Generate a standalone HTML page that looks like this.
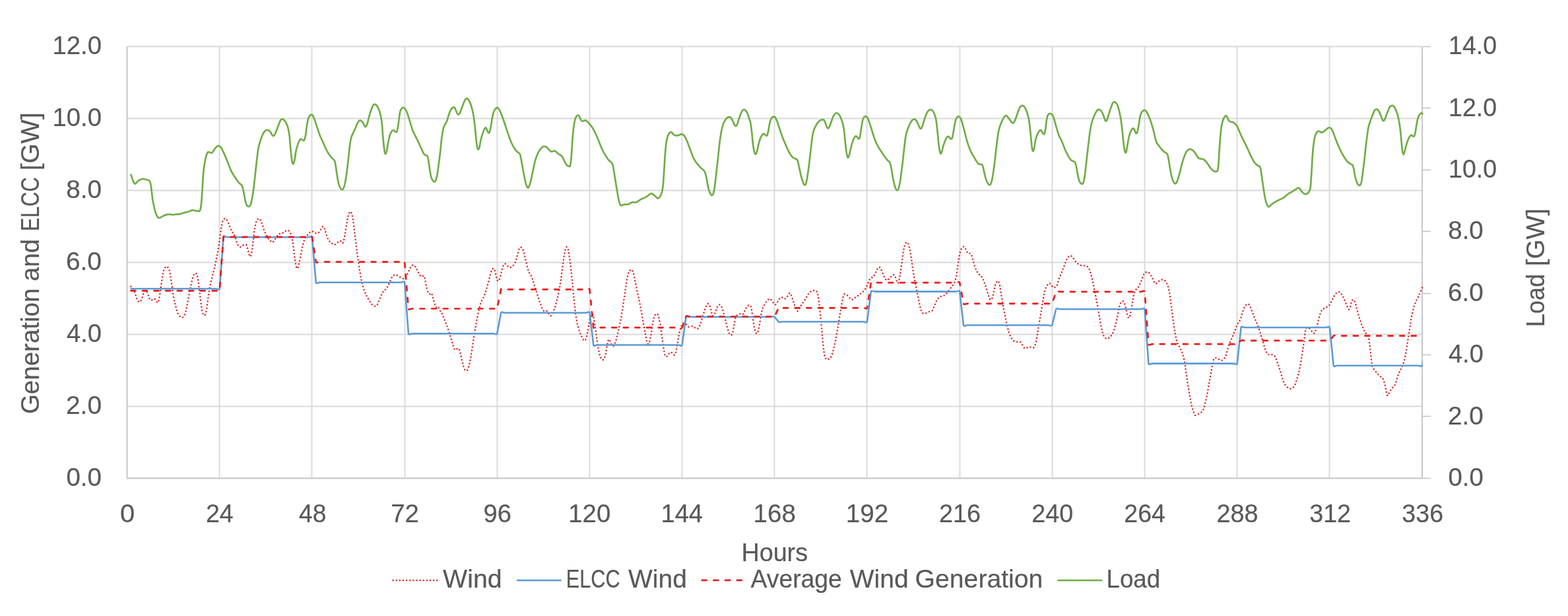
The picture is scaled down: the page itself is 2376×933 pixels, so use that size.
<!DOCTYPE html>
<html lang="en"><head><meta charset="utf-8"><title>Wind generation, ELCC and load</title>
<style>html,body{margin:0;padding:0;background:#fff;width:2376px;height:933px;overflow:hidden}svg{display:block}</style></head>
<body>
<svg width="2376" height="933" viewBox="0 0 2376 933" role="img" aria-label="Wind generation, ELCC and load over 336 hours">
<rect width="2376" height="933" fill="#fff"/>
<g stroke="#d9d9d9" stroke-width="1.9" fill="none">
<line x1="192.55" y1="70.50" x2="2155.07" y2="70.50"/>
<line x1="192.55" y1="179.50" x2="2155.07" y2="179.50"/>
<line x1="192.55" y1="288.50" x2="2155.07" y2="288.50"/>
<line x1="192.55" y1="397.50" x2="2155.07" y2="397.50"/>
<line x1="192.55" y1="506.50" x2="2155.07" y2="506.50"/>
<line x1="192.55" y1="615.50" x2="2155.07" y2="615.50"/>
<line x1="332.50" y1="70.43" x2="332.50" y2="724.38"/>
<line x1="472.50" y1="70.43" x2="472.50" y2="724.38"/>
<line x1="613.50" y1="70.43" x2="613.50" y2="724.38"/>
<line x1="753.50" y1="70.43" x2="753.50" y2="724.38"/>
<line x1="893.50" y1="70.43" x2="893.50" y2="724.38"/>
<line x1="1033.50" y1="70.43" x2="1033.50" y2="724.38"/>
<line x1="1173.50" y1="70.43" x2="1173.50" y2="724.38"/>
<line x1="1313.50" y1="70.43" x2="1313.50" y2="724.38"/>
<line x1="1454.50" y1="70.43" x2="1454.50" y2="724.38"/>
<line x1="1594.50" y1="70.43" x2="1594.50" y2="724.38"/>
<line x1="1734.50" y1="70.43" x2="1734.50" y2="724.38"/>
<line x1="1874.50" y1="70.43" x2="1874.50" y2="724.38"/>
<line x1="2014.50" y1="70.43" x2="2014.50" y2="724.38"/>
</g>
<g stroke="#c8c8c8" stroke-width="2.1" fill="none">
<path d="M192.55,70.43V724.38H2155.07V70.43" stroke-linejoin="round"/>
</g>
<g stroke="#c0c0c0" stroke-width="1.5" fill="none">
<line x1="2155.9700000000003" y1="70.50" x2="2168" y2="70.50"/>
<line x1="2155.9700000000003" y1="163.50" x2="2168" y2="163.50"/>
<line x1="2155.9700000000003" y1="257.50" x2="2168" y2="257.50"/>
<line x1="2155.9700000000003" y1="350.50" x2="2168" y2="350.50"/>
<line x1="2155.9700000000003" y1="444.50" x2="2168" y2="444.50"/>
<line x1="2155.9700000000003" y1="537.50" x2="2168" y2="537.50"/>
<line x1="2155.9700000000003" y1="630.50" x2="2168" y2="630.50"/>
<line x1="2155.9700000000003" y1="724.50" x2="2168" y2="724.50"/>
</g>
<g fill="none" stroke-linejoin="round">
<path d="M198.4,433.8C199.1,434.6 201.2,436.2 202.3,438.3C203.5,440.4 204.5,443.9 205.4,446.5C206.3,449.0 207.0,451.8 207.8,453.6C208.7,455.3 209.6,456.6 210.5,457.0C211.3,457.5 212.3,457.3 213.1,456.2C214.0,455.1 214.7,452.7 215.5,450.5C216.4,448.4 217.1,445.2 218.0,443.4C218.8,441.6 219.8,439.9 220.6,439.9C221.5,439.9 222.4,441.6 223.3,443.4C224.1,445.2 224.9,448.7 225.7,450.5C226.5,452.4 227.3,454.0 228.2,454.6C229.0,455.2 229.9,454.5 230.8,454.2C231.8,453.9 233.0,452.3 233.9,452.6C234.8,452.8 235.5,454.7 236.3,455.6C237.2,456.6 238.2,458.8 239.0,458.3C239.8,457.8 240.3,455.6 241.0,452.6C241.7,449.6 242.4,444.8 243.0,440.3C243.7,435.9 244.4,430.5 245.1,426.1C245.8,421.7 246.4,417.1 247.1,413.9C247.8,410.6 248.4,408.4 249.2,406.7C249.9,405.0 251.0,404.0 251.8,403.7C252.7,403.3 253.4,403.7 254.2,404.7C255.1,405.7 255.9,407.3 256.7,409.8C257.4,412.3 258.0,415.9 258.7,420.0C259.4,424.1 260.1,429.5 260.8,434.2C261.4,439.0 262.0,444.1 262.8,448.5C263.6,452.9 264.6,457.0 265.4,460.7C266.3,464.4 267.2,468.1 268.1,470.9C269.0,473.7 270.0,475.9 270.9,477.4C271.9,478.9 273.1,479.5 274.0,480.1C275.0,480.6 275.8,481.0 276.6,480.7C277.5,480.3 278.2,479.7 279.1,478.0C279.9,476.4 280.9,474.1 281.7,470.9C282.6,467.7 283.3,463.1 284.2,458.7C285.0,454.3 286.0,448.8 286.8,444.4C287.7,440.0 288.4,436.1 289.3,432.2C290.1,428.3 291.1,423.9 291.9,421.0C292.8,418.1 293.6,416.1 294.4,414.9C295.1,413.7 295.9,413.5 296.6,413.9C297.3,414.2 298.0,414.5 298.6,416.9C299.3,419.3 300.0,423.5 300.7,428.1C301.4,432.7 302.0,439.0 302.7,444.4C303.4,449.9 304.1,456.0 304.8,460.7C305.4,465.5 306.1,470.2 306.8,472.9C307.5,475.6 308.2,476.4 308.8,477.0C309.5,477.6 310.2,478.0 310.9,476.6C311.5,475.2 312.2,472.5 312.9,468.9C313.6,465.2 314.3,459.4 314.9,454.6C315.6,449.9 316.2,444.8 317.0,440.3C317.7,435.9 318.6,431.9 319.4,428.1C320.2,424.4 321.0,421.3 321.9,417.9C322.7,414.5 323.6,411.5 324.5,407.8C325.4,404.0 326.3,399.6 327.2,395.5C328.0,391.5 328.8,387.7 329.6,383.3C330.4,378.9 331.3,374.2 332.0,369.1C332.8,364.0 333.4,357.5 334.1,352.8C334.8,348.0 335.4,343.8 336.1,340.5C336.8,337.3 337.4,335.0 338.2,333.4C338.9,331.8 339.9,331.1 340.8,331.0C341.7,330.9 342.6,331.7 343.5,332.8C344.3,333.9 345.1,335.7 345.9,337.5C346.7,339.3 347.5,341.6 348.3,343.6C349.2,345.6 350.1,348.0 351.0,349.7C351.9,351.4 352.8,352.3 353.6,353.8C354.5,355.3 355.3,356.8 356.1,358.9C356.9,360.9 357.7,363.8 358.5,366.0C359.4,368.2 360.2,370.8 361.2,372.1C362.1,373.5 363.2,374.2 364.2,374.2C365.2,374.2 366.3,372.7 367.3,372.1C368.3,371.5 369.3,370.9 370.3,370.7C371.4,370.5 372.5,370.0 373.4,371.1C374.2,372.2 374.7,374.8 375.4,377.2C376.1,379.6 376.8,383.5 377.5,385.4C378.1,387.2 378.8,389.1 379.5,388.4C380.2,387.7 380.9,385.2 381.5,381.3C382.2,377.4 382.9,370.4 383.6,365.0C384.3,359.6 384.9,353.1 385.6,348.7C386.3,344.3 387.0,341.1 387.6,338.5C388.3,335.9 388.9,334.3 389.7,333.0C390.5,331.8 391.5,330.9 392.3,331.0C393.2,331.0 394.0,332.0 394.8,333.4C395.6,334.8 396.4,337.2 397.2,339.5C398.1,341.9 399.0,345.3 399.9,347.7C400.8,350.1 401.7,351.9 402.5,353.8C403.4,355.7 404.1,357.4 405.0,358.9C405.8,360.3 406.6,361.5 407.4,362.5C408.3,363.6 409.2,364.2 410.1,365.0C410.9,365.7 411.8,367.0 412.7,367.0C413.5,367.0 414.2,366.2 415.1,365.0C416.1,363.8 417.2,361.4 418.2,359.9C419.2,358.4 420.2,356.8 421.3,355.8C422.3,354.8 423.3,354.2 424.3,353.8C425.3,353.3 426.3,353.5 427.4,353.2C428.4,352.8 429.5,352.3 430.4,351.8C431.4,351.2 432.1,350.2 433.1,349.7C434.0,349.2 435.0,348.5 435.9,348.7C436.8,348.9 437.7,349.5 438.6,350.7C439.4,351.9 440.4,353.4 441.2,355.8C442.0,358.2 442.6,361.1 443.2,365.0C443.9,368.9 444.6,374.2 445.3,379.2C446.0,384.3 446.6,391.2 447.3,395.5C448.0,399.9 448.7,403.6 449.4,405.3C450.0,407.0 450.7,407.0 451.4,405.7C452.1,404.4 452.7,401.0 453.4,397.6C454.2,394.2 455.1,389.4 455.9,385.4C456.7,381.3 457.5,376.7 458.3,373.1C459.2,369.6 460.1,366.3 461.0,364.0C461.8,361.6 462.8,360.2 463.6,358.9C464.5,357.5 465.2,356.8 466.1,355.8C466.9,354.8 467.7,353.6 468.5,352.8C469.4,351.9 470.2,351.1 471.2,350.7C472.1,350.4 473.2,350.4 474.2,350.7C475.2,351.1 476.2,352.3 477.3,352.8C478.3,353.2 479.3,353.6 480.3,353.4C481.3,353.2 482.4,352.7 483.4,351.8C484.3,350.8 485.2,349.0 486.0,347.7C486.9,346.3 487.7,344.3 488.5,343.6C489.2,342.9 489.8,342.8 490.5,343.6C491.2,344.5 491.8,346.5 492.5,348.7C493.3,350.9 494.1,354.5 495.0,356.8C495.8,359.2 496.7,361.3 497.6,363.0C498.6,364.7 499.7,366.0 500.7,367.0C501.7,368.0 502.7,368.5 503.7,369.1C504.8,369.6 505.8,370.5 506.8,370.5C507.8,370.5 508.8,369.8 509.8,369.1C510.9,368.3 511.9,366.7 512.9,366.0C513.9,365.3 515.0,364.7 516.0,365.0C516.9,365.3 517.9,367.7 518.6,368.0C519.3,368.4 519.5,368.6 520.0,367.0C520.6,365.5 521.4,362.3 522.1,358.9C522.7,355.5 523.4,350.7 524.1,346.7C524.8,342.6 525.5,338.0 526.1,334.4C526.8,330.9 527.4,327.6 528.2,325.3C528.9,323.0 529.8,320.9 530.6,320.6C531.4,320.3 532.1,321.3 532.9,323.2C533.6,325.2 534.2,328.2 534.9,332.4C535.6,336.6 536.3,343.3 536.9,348.7C537.6,354.1 538.3,359.6 539.0,365.0C539.7,370.4 540.3,376.2 541.0,381.3C541.7,386.4 542.4,390.8 543.0,395.5C543.7,400.3 544.4,405.4 545.1,409.8C545.8,414.2 546.4,418.3 547.1,422.0C547.9,425.8 548.7,429.1 549.6,432.2C550.4,435.3 551.2,438.0 552.0,440.3C552.9,442.7 553.8,444.6 554.7,446.5C555.5,448.3 556.4,449.9 557.3,451.5C558.2,453.2 559.2,454.8 560.2,456.2C561.1,457.7 561.8,459.2 562.8,460.3C563.8,461.4 564.8,462.2 565.9,462.7C566.9,463.3 568.0,463.9 568.9,463.8C569.9,463.6 570.7,462.9 571.6,461.7C572.4,460.5 573.2,458.5 574.0,456.6C574.8,454.8 575.6,452.6 576.4,450.5C577.3,448.5 578.1,446.1 579.1,444.4C580.0,442.7 581.1,441.5 582.1,440.3C583.2,439.2 584.3,438.5 585.2,437.3C586.2,436.1 587.0,434.7 587.9,433.2C588.7,431.7 589.5,430.0 590.3,428.1C591.1,426.3 591.9,423.7 592.7,422.0C593.6,420.3 594.4,418.9 595.4,417.9C596.3,417.0 597.4,416.5 598.4,416.3C599.5,416.1 600.5,416.5 601.5,416.9C602.5,417.4 603.5,418.4 604.6,419.0C605.6,419.6 606.6,420.1 607.6,420.6C608.6,421.1 609.8,421.8 610.7,422.0C611.5,422.2 611.8,422.3 612.7,421.6C613.5,420.9 614.7,419.6 615.8,417.9C616.8,416.3 617.8,413.9 618.8,411.8C619.8,409.8 620.9,407.4 621.9,405.7C622.8,404.1 623.7,402.7 624.5,402.1C625.4,401.4 626.0,401.2 627.0,401.6C627.9,402.1 629.0,403.2 630.0,404.7C631.0,406.2 632.0,408.8 633.1,410.8C634.1,412.9 635.1,415.6 636.1,416.9C637.1,418.3 638.2,418.8 639.2,419.0C640.2,419.1 641.4,417.1 642.2,417.9C643.1,418.8 643.6,421.3 644.3,424.1C644.9,426.8 645.5,431.0 646.3,434.2C647.1,437.5 648.0,441.5 649.0,443.4C649.9,445.3 651.0,445.3 651.8,445.4C652.7,445.6 653.3,443.2 654.0,444.4C654.8,445.6 655.6,449.7 656.5,452.6C657.3,455.5 658.3,459.5 659.1,461.7C660.0,463.9 660.8,465.3 661.6,465.8C662.4,466.3 663.1,463.9 664.0,464.8C665.0,465.7 666.3,469.6 667.4,471.4C668.4,473.3 669.4,474.0 670.3,475.9C671.2,477.8 672.1,480.4 673.0,482.7C673.9,484.9 674.8,487.0 675.7,489.4C676.6,491.9 677.7,494.5 678.6,497.3C679.6,500.1 680.6,503.3 681.6,506.3C682.5,509.3 683.4,512.5 684.3,515.3C685.1,518.1 685.8,520.9 686.5,523.2C687.3,525.4 688.0,527.7 688.8,528.8C689.5,529.9 690.3,530.1 691.0,529.9C691.8,529.7 692.5,527.9 693.3,527.7C694.0,527.5 694.8,527.5 695.5,528.8C696.3,530.1 697.0,532.7 697.8,535.6C698.5,538.4 699.3,542.5 700.0,545.7C700.8,548.9 701.5,552.2 702.3,554.7C703.0,557.1 703.8,559.2 704.5,560.3C705.3,561.4 706.0,561.6 706.8,561.4C707.5,561.3 708.3,560.9 709.0,559.2C709.8,557.5 710.5,554.5 711.3,551.3C712.0,548.1 712.8,544.4 713.5,540.1C714.3,535.7 715.0,530.3 715.8,525.4C716.5,520.6 717.3,515.5 718.0,510.8C718.8,506.1 719.5,501.6 720.3,497.3C721.0,493.0 721.7,489.2 722.5,484.9C723.3,480.6 724.3,475.5 725.2,471.4C726.2,467.3 727.2,463.2 728.1,460.2C729.1,457.2 730.1,455.5 731.1,453.4C732.0,451.3 732.9,450.0 733.8,447.8C734.7,445.5 735.5,442.9 736.5,439.9C737.4,436.9 738.4,433.3 739.4,429.8C740.4,426.2 741.4,421.9 742.3,418.5C743.3,415.1 744.1,411.5 745.0,409.5C745.9,407.5 746.9,406.4 747.7,406.6C748.6,406.8 749.2,408.5 750.0,410.6C750.7,412.8 751.6,417.2 752.2,419.6C752.9,422.1 753.4,424.5 754.0,425.3C754.7,426.0 755.5,425.5 756.3,424.1C757.0,422.8 757.8,420.0 758.5,417.4C759.3,414.8 760.0,411.0 760.8,408.4C761.5,405.8 762.3,403.1 763.0,401.6C763.8,400.1 764.5,399.4 765.3,399.4C766.1,399.4 767.0,400.8 768.0,401.6C768.9,402.5 769.9,404.0 770.9,404.6C771.9,405.1 772.8,405.3 773.8,405.0C774.9,404.7 776.0,403.7 777.0,402.8C778.0,401.8 779.1,400.9 779.9,399.4C780.8,397.9 781.4,396.2 782.2,393.8C782.9,391.3 783.7,387.6 784.4,384.8C785.2,381.9 785.9,378.6 786.7,376.9C787.4,375.2 788.1,374.7 788.9,374.6C789.7,374.5 790.8,374.7 791.6,376.2C792.5,377.7 793.2,380.5 794.1,383.6C795.0,386.7 795.9,391.1 796.8,394.9C797.7,398.6 798.6,403.0 799.5,406.1C800.4,409.3 801.4,412.0 802.4,414.0C803.4,416.1 804.4,416.5 805.3,418.5C806.3,420.6 807.1,423.6 808.0,426.4C809.0,429.2 809.8,432.4 810.8,435.4C811.7,438.4 812.7,441.4 813.7,444.4C814.7,447.4 815.7,450.6 816.6,453.4C817.5,456.2 818.4,458.8 819.3,461.3C820.2,463.7 821.1,466.3 822.0,468.0C822.9,469.7 824.0,471.0 824.9,471.4C825.9,471.9 826.9,470.4 827.9,470.7C828.8,471.1 829.7,472.4 830.6,473.7C831.5,474.9 832.3,477.6 833.3,478.2C834.2,478.7 835.2,478.4 836.2,477.0C837.2,475.7 838.2,472.7 839.1,470.3C840.0,467.8 840.9,465.4 841.8,462.4C842.7,459.4 843.6,456.2 844.5,452.3C845.4,448.3 846.6,443.3 847.4,438.8C848.3,434.3 848.9,430.3 849.7,425.3C850.4,420.2 851.2,414.0 851.9,408.4C852.7,402.8 853.4,396.4 854.2,391.5C854.9,386.6 855.7,382.1 856.4,379.1C857.2,376.2 857.9,374.1 858.7,374.0C859.4,373.8 860.2,375.1 860.9,378.0C861.7,380.9 862.4,386.3 863.2,391.5C863.9,396.8 864.7,402.8 865.4,409.5C866.2,416.3 866.9,424.5 867.7,432.0C868.4,439.5 869.2,447.4 869.9,454.5C870.7,461.7 871.4,469.2 872.2,474.8C872.9,480.4 873.7,484.5 874.4,488.3C875.2,492.0 875.9,494.7 876.7,497.3C877.4,499.9 878.2,502.0 878.9,504.0C879.7,506.1 880.4,508.0 881.2,509.7C881.9,511.4 882.7,513.2 883.4,514.2C884.2,515.2 884.9,515.9 885.7,515.8C886.5,515.6 887.2,515.0 888.0,513.0C888.7,511.1 889.5,507.8 890.2,504.0C891.0,500.3 891.7,494.7 892.5,490.5C893.2,486.4 894.0,481.7 894.7,479.3C895.5,476.9 896.2,475.9 897.0,475.9C897.7,475.9 898.5,476.5 899.2,479.3C900.0,482.1 900.7,487.9 901.5,492.8C902.2,497.7 903.0,503.3 903.7,508.5C904.5,513.8 905.2,519.8 906.0,524.3C906.7,528.8 907.5,532.6 908.2,535.6C909.0,538.6 909.6,540.7 910.5,542.3C911.3,543.9 912.3,544.8 913.2,545.0C914.0,545.2 914.8,545.0 915.6,543.4C916.4,541.9 917.1,539.1 917.9,535.6C918.6,532.0 919.4,525.6 920.1,522.1C920.9,518.5 921.6,515.1 922.4,514.2C923.1,513.2 923.9,515.1 924.6,516.4C925.4,517.7 926.1,520.7 926.9,522.1C927.6,523.4 928.4,524.5 929.1,524.3C929.9,524.1 930.6,522.8 931.4,520.9C932.2,519.1 933.2,516.2 934.1,513.0C935.0,509.9 935.9,505.9 936.8,501.8C937.7,497.7 938.7,493.2 939.7,488.3C940.7,483.4 941.7,478.2 942.6,472.5C943.6,466.9 944.4,460.5 945.3,454.5C946.2,448.5 947.2,442.0 948.0,436.5C948.9,431.1 949.5,425.8 950.3,421.9C951.0,418.0 951.8,415.0 952.5,412.9C953.3,410.8 954.0,410.3 954.8,409.5C955.6,408.8 956.5,407.8 957.3,408.4C958.1,409.0 958.8,410.5 959.5,412.9C960.3,415.3 960.9,419.1 961.8,423.0C962.6,427.0 963.6,432.2 964.5,436.5C965.4,440.8 966.2,444.6 967.2,448.9C968.1,453.2 969.2,457.7 970.1,462.4C971.0,467.1 971.9,472.0 972.8,477.0C973.7,482.1 974.6,487.9 975.5,492.8C976.4,497.7 977.2,502.2 978.0,506.3C978.8,510.4 979.5,515.1 980.2,517.6C981.0,520.0 981.7,521.3 982.5,520.9C983.2,520.6 984.0,518.1 984.7,515.3C985.5,512.5 986.2,508.4 987.0,504.0C987.7,499.7 988.5,493.5 989.2,489.4C990.0,485.3 990.7,481.5 991.5,479.3C992.2,477.0 992.9,476.5 993.7,475.9C994.6,475.3 995.6,474.8 996.4,475.9C997.3,477.0 997.9,479.5 998.7,482.7C999.4,485.9 1000.2,490.4 1000.9,495.0C1001.7,499.7 1002.4,505.5 1003.2,510.8C1003.9,516.1 1004.7,522.1 1005.4,526.6C1006.2,531.1 1006.9,535.6 1007.7,537.8C1008.4,540.1 1009.1,540.2 1009.9,540.1C1010.8,539.9 1011.8,537.8 1012.9,536.7C1013.9,535.6 1015.2,533.5 1016.2,533.3C1017.3,533.1 1018.2,534.8 1019.2,535.6C1020.1,536.3 1021.0,538.2 1021.9,537.8C1022.7,537.4 1023.4,535.9 1024.1,533.3C1024.9,530.7 1025.6,526.2 1026.4,522.1C1027.1,517.9 1027.8,512.7 1028.6,508.5C1029.4,504.4 1030.4,500.3 1031.3,497.3C1032.3,494.3 1033.3,491.9 1034.2,490.5C1035.2,489.2 1036.2,489.2 1037.2,489.4C1038.2,489.6 1039.3,490.7 1040.3,491.7C1041.3,492.6 1042.2,494.6 1043.3,495.0C1044.3,495.5 1045.5,494.8 1046.6,494.6C1047.8,494.4 1049.0,493.7 1050.0,493.9C1051.1,494.2 1052.0,495.5 1052.9,496.2C1053.9,496.8 1054.7,497.6 1055.6,497.7C1056.5,497.9 1057.4,498.0 1058.3,496.8C1059.3,495.6 1060.3,493.1 1061.3,490.5C1062.2,488.0 1063.2,484.5 1064.2,481.5C1065.1,478.5 1066.0,475.3 1066.9,472.5C1067.8,469.7 1068.6,466.7 1069.6,464.7C1070.5,462.6 1071.6,460.7 1072.5,460.2C1073.4,459.6 1074.0,460.0 1074.8,461.3C1075.5,462.6 1076.3,465.4 1077.0,468.0C1077.8,470.7 1078.5,475.3 1079.3,477.0C1080.0,478.7 1080.8,478.7 1081.5,478.2C1082.3,477.6 1083.0,475.5 1083.8,473.7C1084.5,471.8 1085.2,468.8 1086.0,466.9C1086.8,465.0 1087.9,463.3 1088.7,462.4C1089.6,461.5 1090.3,461.2 1091.2,461.7C1092.1,462.3 1093.0,463.6 1093.9,465.8C1094.8,468.0 1095.7,471.4 1096.6,474.8C1097.5,478.2 1098.5,482.3 1099.5,486.0C1100.5,489.8 1101.5,494.1 1102.4,497.3C1103.4,500.5 1104.2,503.5 1105.1,505.2C1106.0,506.9 1107.0,507.6 1107.8,507.4C1108.7,507.2 1109.3,506.5 1110.1,504.0C1110.8,501.6 1111.6,496.5 1112.3,492.8C1113.1,489.0 1113.7,484.2 1114.6,481.5C1115.5,478.9 1116.6,478.0 1117.5,477.0C1118.5,476.1 1119.5,476.3 1120.5,475.9C1121.4,475.5 1122.3,474.8 1123.2,474.8C1124.1,474.8 1124.9,476.7 1125.9,475.9C1126.8,475.2 1127.8,472.2 1128.8,470.3C1129.8,468.4 1130.8,466.0 1131.7,464.7C1132.6,463.3 1133.7,462.8 1134.4,462.4C1135.1,462.1 1135.2,462.1 1135.8,462.5C1136.4,462.9 1137.3,462.2 1138.1,464.8C1138.8,467.4 1139.6,473.4 1140.3,478.3C1141.1,483.2 1141.8,489.9 1142.6,494.0C1143.3,498.2 1144.1,501.2 1144.8,503.0C1145.6,504.9 1146.3,505.4 1147.1,504.9C1147.8,504.3 1148.6,502.6 1149.3,499.7C1150.1,496.7 1150.8,491.6 1151.6,487.3C1152.3,483.0 1153.0,477.5 1153.8,473.8C1154.6,470.0 1155.6,467.0 1156.5,464.8C1157.4,462.5 1158.3,461.8 1159.2,460.3C1160.1,458.8 1161.2,457.0 1162.1,455.8C1163.1,454.6 1164.1,453.5 1165.1,453.1C1166.1,452.7 1167.2,452.8 1168.2,453.5C1169.2,454.3 1170.2,456.3 1171.1,457.6C1172.1,458.9 1173.1,461.1 1174.1,461.4C1175.1,461.7 1176.2,460.5 1177.2,459.2C1178.2,457.8 1179.2,455.0 1180.1,453.5C1181.1,452.1 1182.1,451.1 1183.1,450.6C1184.1,450.2 1185.2,450.5 1186.2,450.8C1187.2,451.1 1188.2,452.3 1189.1,452.4C1190.1,452.5 1191.0,452.2 1191.8,451.3C1192.7,450.3 1193.5,448.0 1194.3,446.8C1195.1,445.6 1195.8,444.1 1196.6,444.1C1197.3,444.1 1198.0,445.0 1198.8,446.8C1199.6,448.5 1200.6,452.0 1201.5,454.7C1202.4,457.3 1203.3,460.1 1204.2,462.5C1205.2,465.0 1206.3,467.9 1207.2,469.3C1208.0,470.7 1208.5,471.8 1209.4,471.1C1210.3,470.3 1211.3,466.6 1212.3,464.8C1213.3,463.0 1214.5,461.8 1215.5,460.3C1216.5,458.8 1217.4,457.3 1218.4,455.8C1219.4,454.3 1220.4,452.8 1221.3,451.3C1222.3,449.8 1223.0,448.3 1224.0,446.8C1225.0,445.3 1226.3,443.3 1227.4,442.3C1228.5,441.2 1229.7,440.9 1230.8,440.5C1231.9,440.1 1233.0,439.9 1234.2,440.0C1235.3,440.1 1236.6,439.7 1237.5,441.2C1238.5,442.7 1239.1,445.5 1239.8,449.0C1240.5,452.6 1241.0,457.7 1241.6,462.5C1242.2,467.4 1242.6,473.0 1243.2,478.3C1243.7,483.5 1244.3,488.8 1244.7,494.0C1245.2,499.3 1245.6,504.6 1246.1,509.8C1246.6,515.1 1247.1,521.1 1247.7,525.6C1248.2,530.1 1248.7,534.0 1249.2,536.8C1249.8,539.6 1250.4,541.1 1251.0,542.4C1251.7,543.8 1252.5,544.5 1253.3,544.7C1254.1,544.9 1255.1,544.1 1256.0,543.6C1256.9,543.0 1258.1,542.6 1258.9,541.3C1259.8,540.0 1260.4,537.9 1261.2,535.7C1261.9,533.4 1262.7,530.8 1263.4,527.8C1264.2,524.8 1264.9,521.4 1265.7,517.7C1266.4,513.9 1267.2,509.6 1267.9,505.3C1268.7,501.0 1269.4,496.3 1270.2,491.8C1270.9,487.3 1271.7,482.8 1272.4,478.3C1273.2,473.8 1273.9,469.1 1274.7,464.8C1275.4,460.5 1276.2,455.6 1276.9,452.4C1277.7,449.2 1278.3,446.7 1279.2,445.7C1280.0,444.6 1280.9,446.0 1281.9,446.3C1282.8,446.7 1283.9,447.1 1284.8,447.9C1285.7,448.7 1286.6,450.3 1287.5,451.3C1288.4,452.3 1289.5,453.8 1290.4,454.0C1291.4,454.2 1292.3,453.0 1293.4,452.4C1294.4,451.8 1295.5,450.8 1296.5,450.2C1297.5,449.5 1298.4,449.1 1299.4,448.4C1300.5,447.6 1301.7,446.5 1302.8,445.7C1303.9,444.8 1305.1,444.3 1306.2,443.4C1307.2,442.5 1308.2,441.2 1309.1,440.0C1310.0,438.9 1310.9,438.2 1311.8,436.7C1312.7,435.2 1313.6,433.1 1314.5,431.0C1315.4,429.0 1316.1,426.0 1317.0,424.3C1317.9,422.6 1318.8,421.6 1319.7,420.9C1320.6,420.1 1321.7,420.5 1322.6,419.8C1323.6,419.0 1324.4,417.9 1325.3,416.4C1326.2,414.9 1327.2,412.5 1328.0,410.8C1328.9,409.0 1329.7,406.8 1330.5,405.8C1331.3,404.8 1332.0,404.3 1332.7,404.7C1333.5,405.1 1334.2,406.5 1335.0,408.1C1335.8,409.6 1336.8,412.2 1337.7,414.1C1338.6,416.1 1339.5,418.1 1340.4,419.8C1341.3,421.5 1342.3,423.7 1343.3,424.3C1344.3,424.8 1345.3,423.8 1346.2,423.1C1347.2,422.5 1348.0,421.2 1348.9,420.2C1349.9,419.3 1350.9,418.2 1351.9,417.5C1352.8,416.9 1353.7,416.0 1354.6,416.4C1355.4,416.8 1356.1,418.1 1356.8,419.8C1357.6,421.5 1358.4,425.0 1359.1,426.5C1359.8,428.0 1360.2,429.5 1360.9,428.8C1361.5,428.0 1362.3,425.0 1362.9,422.0C1363.5,419.0 1364.0,415.3 1364.7,410.8C1365.4,406.3 1366.2,400.3 1367.0,395.0C1367.7,389.8 1368.5,383.4 1369.2,379.3C1370.0,375.1 1370.6,372.3 1371.5,370.3C1372.3,368.2 1373.3,366.9 1374.2,366.9C1375.0,366.9 1375.8,368.2 1376.6,370.3C1377.4,372.3 1378.1,375.5 1378.9,379.3C1379.6,383.0 1380.4,387.9 1381.1,392.8C1381.9,397.6 1382.6,403.6 1383.4,408.5C1384.1,413.4 1384.9,417.9 1385.6,422.0C1386.4,426.1 1387.1,429.5 1387.9,433.3C1388.6,437.0 1389.4,440.8 1390.1,444.5C1390.9,448.3 1391.6,452.2 1392.4,455.8C1393.1,459.3 1393.9,463.1 1394.6,465.9C1395.4,468.7 1396.1,471.2 1396.9,472.7C1397.7,474.2 1398.6,474.6 1399.6,474.9C1400.6,475.2 1401.8,474.8 1403.0,474.5C1404.1,474.1 1405.2,473.2 1406.3,472.7C1407.5,472.2 1408.7,471.9 1409.7,471.5C1410.8,471.2 1411.7,471.5 1412.6,470.4C1413.6,469.3 1414.4,466.9 1415.3,464.8C1416.2,462.7 1417.1,460.1 1418.0,458.0C1419.0,456.0 1419.9,453.8 1421.0,452.4C1422.0,451.0 1423.2,450.1 1424.3,449.5C1425.5,448.8 1426.6,449.0 1427.7,448.6C1428.8,448.2 1430.0,447.9 1431.1,447.2C1432.2,446.6 1433.4,445.7 1434.5,444.5C1435.6,443.3 1436.7,441.5 1437.9,440.0C1439.0,438.5 1440.1,437.0 1441.2,435.5C1442.4,434.0 1443.6,432.7 1444.6,431.0C1445.6,429.3 1446.5,428.0 1447.3,425.4C1448.1,422.8 1448.9,419.2 1449.6,415.3C1450.2,411.3 1450.8,405.9 1451.4,401.8C1452.0,397.6 1452.5,394.1 1453.2,390.5C1453.8,386.9 1454.6,382.9 1455.4,380.4C1456.2,377.8 1457.2,376.3 1458.1,375.2C1459.0,374.1 1460.1,373.1 1461.0,373.6C1462.0,374.1 1462.8,376.5 1463.7,378.1C1464.6,379.7 1465.5,382.4 1466.4,383.3C1467.4,384.2 1468.4,383.3 1469.4,383.8C1470.3,384.2 1471.2,384.1 1472.1,386.0C1472.9,387.9 1473.7,392.0 1474.5,395.0C1475.4,398.0 1476.3,401.4 1477.2,404.0C1478.2,406.6 1479.2,408.9 1480.2,410.8C1481.2,412.6 1482.3,414.1 1483.3,415.3C1484.3,416.4 1485.3,416.4 1486.2,417.5C1487.2,418.6 1488.2,420.1 1489.2,422.0C1490.1,423.9 1491.0,426.3 1491.9,428.8C1492.8,431.2 1493.6,433.7 1494.6,436.7C1495.5,439.7 1496.6,444.0 1497.5,446.8C1498.4,449.6 1499.3,452.6 1500.2,453.5C1501.1,454.5 1502.2,454.3 1503.1,452.4C1504.1,450.5 1505.0,445.8 1505.8,442.3C1506.7,438.7 1507.5,433.7 1508.3,431.0C1509.1,428.4 1509.8,427.4 1510.6,426.5C1511.3,425.7 1512.1,424.9 1512.8,426.1C1513.6,427.2 1514.3,429.8 1515.1,433.3C1515.8,436.7 1516.6,442.3 1517.3,446.8C1518.1,451.3 1518.8,456.0 1519.6,460.3C1520.3,464.6 1521.1,468.7 1521.8,472.7C1522.6,476.6 1523.3,480.4 1524.1,483.9C1524.8,487.5 1525.6,490.9 1526.3,494.0C1527.1,497.2 1527.7,500.4 1528.6,503.0C1529.4,505.7 1530.3,507.9 1531.3,509.8C1532.2,511.7 1533.2,513.1 1534.2,514.3C1535.2,515.5 1536.2,516.4 1537.3,517.0C1538.5,517.6 1539.8,517.6 1540.9,517.7C1542.1,517.8 1543.1,517.5 1544.1,517.7C1545.1,517.9 1546.0,517.9 1547.0,518.8C1548.0,519.7 1549.0,521.9 1549.9,523.3C1550.9,524.7 1551.6,526.8 1552.6,527.4C1553.7,527.9 1554.9,527.0 1556.0,526.7C1557.1,526.4 1558.3,525.7 1559.4,525.6C1560.5,525.4 1561.7,525.4 1562.8,525.6C1563.8,525.7 1564.8,527.1 1565.7,526.7C1566.6,526.3 1567.6,525.4 1568.4,523.3C1569.2,521.2 1569.9,518.1 1570.6,514.3C1571.4,510.6 1572.1,505.3 1572.9,500.8C1573.6,496.3 1574.4,491.8 1575.1,487.3C1575.9,482.8 1576.6,478.3 1577.4,473.8C1578.1,469.3 1578.9,464.8 1579.6,460.3C1580.4,455.8 1581.1,450.7 1581.9,446.8C1582.7,442.8 1583.7,439.3 1584.6,436.7C1585.5,434.0 1586.6,432.3 1587.5,431.0C1588.5,429.8 1589.5,429.0 1590.5,429.2C1591.4,429.4 1592.3,431.1 1593.2,432.2C1594.1,433.2 1594.9,435.0 1595.9,435.5C1596.8,436.0 1597.8,435.6 1598.8,435.1C1599.8,434.5 1600.8,434.1 1601.7,432.2C1602.6,430.2 1603.4,425.9 1604.4,423.1C1605.4,420.4 1606.6,418.2 1607.6,415.7C1608.6,413.3 1609.4,411.0 1610.3,408.6C1611.2,406.2 1612.1,403.7 1612.9,401.5C1613.8,399.3 1614.6,397.2 1615.4,395.4C1616.2,393.5 1617.0,391.6 1617.8,390.3C1618.7,389.0 1619.6,388.1 1620.5,387.6C1621.3,387.2 1622.3,387.3 1623.1,387.6C1624.0,388.0 1624.7,388.6 1625.5,389.7C1626.4,390.7 1627.1,392.5 1628.0,393.7C1628.8,395.0 1629.8,396.0 1630.6,397.0C1631.5,397.9 1632.4,398.8 1633.3,399.4C1634.1,400.1 1634.8,400.6 1635.7,401.1C1636.6,401.5 1637.8,401.8 1638.8,402.1C1639.8,402.3 1640.8,402.4 1641.8,402.5C1642.9,402.6 1643.9,402.3 1644.9,402.5C1645.8,402.7 1646.7,402.8 1647.5,403.5C1648.4,404.2 1649.2,405.2 1650.0,406.6C1650.7,407.9 1651.3,409.6 1652.0,411.7C1652.7,413.7 1653.4,416.1 1654.1,418.8C1654.7,421.5 1655.4,424.7 1656.1,428.0C1656.8,431.2 1657.5,434.7 1658.1,438.1C1658.8,441.5 1659.5,444.9 1660.2,448.3C1660.9,451.7 1661.5,454.9 1662.2,458.5C1662.9,462.1 1663.6,465.8 1664.2,469.7C1664.9,473.6 1665.6,478.0 1666.3,481.9C1667.0,485.8 1667.6,489.7 1668.3,493.1C1669.0,496.5 1669.7,499.7 1670.4,502.3C1671.0,504.8 1671.6,506.8 1672.4,508.4C1673.1,510.0 1674.0,511.1 1674.8,511.9C1675.7,512.6 1676.6,513.1 1677.5,513.1C1678.4,513.1 1679.3,512.4 1680.1,511.9C1681.0,511.3 1681.8,510.7 1682.6,509.8C1683.4,508.9 1684.2,507.8 1685.0,506.4C1685.9,504.9 1686.9,503.3 1687.7,501.3C1688.4,499.2 1689.0,496.7 1689.7,494.1C1690.4,491.6 1691.1,488.9 1691.7,486.0C1692.4,483.1 1693.1,480.1 1693.8,476.8C1694.5,473.6 1695.1,469.5 1695.8,466.6C1696.5,463.8 1697.2,461.2 1697.9,459.5C1698.5,457.9 1699.2,457.4 1699.9,456.9C1700.6,456.4 1701.2,456.0 1701.9,456.5C1702.6,456.9 1703.3,457.8 1704.0,459.5C1704.6,461.2 1705.3,463.9 1706.0,466.6C1706.7,469.4 1707.4,473.4 1708.0,475.8C1708.7,478.3 1709.4,480.8 1710.1,481.3C1710.8,481.8 1711.4,481.0 1712.1,478.9C1712.8,476.8 1713.5,472.4 1714.1,468.7C1714.8,465.0 1715.5,460.2 1716.2,456.5C1716.9,452.7 1717.5,449.0 1718.2,446.3C1718.9,443.6 1719.5,441.7 1720.3,440.2C1721.0,438.6 1722.1,438.1 1722.9,437.1C1723.8,436.1 1724.5,435.4 1725.3,434.1C1726.2,432.7 1726.9,430.8 1727.8,429.0C1728.6,427.1 1729.6,425.1 1730.4,422.9C1731.3,420.7 1732.2,417.4 1733.1,415.7C1733.9,414.0 1734.7,413.3 1735.5,412.7C1736.3,412.1 1737.1,412.1 1738.0,412.1C1738.8,412.1 1739.7,412.1 1740.6,412.7C1741.5,413.3 1742.4,414.5 1743.3,415.7C1744.1,417.0 1744.9,418.6 1745.7,420.2C1746.5,421.8 1747.3,423.9 1748.2,425.5C1749.0,427.1 1749.9,429.1 1750.8,429.6C1751.7,430.1 1752.6,429.0 1753.5,428.4C1754.3,427.7 1755.0,426.6 1755.9,425.9C1756.7,425.2 1757.7,424.7 1758.5,424.3C1759.4,423.9 1760.1,423.5 1761.0,423.5C1761.8,423.4 1762.8,423.5 1763.6,423.9C1764.5,424.3 1765.3,424.9 1766.1,425.9C1766.9,426.9 1767.8,428.3 1768.5,430.0C1769.3,431.7 1769.9,433.7 1770.6,436.1C1771.2,438.5 1771.7,441.2 1772.2,444.2C1772.7,447.3 1773.1,451.0 1773.6,454.4C1774.1,457.8 1774.6,461.2 1775.0,464.6C1775.5,468.0 1775.8,471.4 1776.3,474.8C1776.7,478.2 1777.2,481.6 1777.7,485.0C1778.2,488.4 1778.6,491.8 1779.1,495.2C1779.6,498.6 1780.2,502.3 1780.7,505.3C1781.3,508.4 1781.8,511.1 1782.4,513.5C1783.0,515.9 1783.7,517.7 1784.4,519.6C1785.2,521.5 1786.0,523.0 1786.9,524.7C1787.7,526.4 1788.6,527.9 1789.5,529.8C1790.4,531.7 1791.4,533.5 1792.1,535.9C1792.9,538.3 1793.5,540.9 1794.2,544.0C1794.8,547.2 1795.6,552.1 1796.0,554.7C1796.4,557.3 1796.5,558.1 1796.7,559.8C1796.9,561.4 1797.1,562.9 1797.3,564.6C1797.5,566.2 1797.8,567.8 1798.0,569.4C1798.2,571.1 1798.5,572.8 1798.7,574.5C1799.0,576.2 1799.3,578.0 1799.5,579.6C1799.8,581.3 1800.1,582.9 1800.3,584.5C1800.6,586.2 1800.9,587.8 1801.2,589.5C1801.4,591.2 1801.7,592.9 1802.0,594.6C1802.2,596.3 1802.5,597.9 1802.8,599.5C1803.1,601.1 1803.4,602.7 1803.7,604.4C1804.0,606.0 1804.4,607.7 1804.7,609.4C1805.1,611.0 1805.5,612.8 1805.8,614.5C1806.2,616.1 1806.6,617.7 1807.1,619.3C1807.5,620.9 1808.1,622.5 1808.7,624.0C1809.3,625.6 1810.1,628.0 1810.7,628.7C1811.4,629.4 1812.1,628.5 1812.8,628.3C1813.5,628.1 1814.2,627.8 1815.0,627.5C1815.8,627.1 1816.6,626.6 1817.4,626.3C1818.1,625.9 1818.9,625.8 1819.6,625.2C1820.3,624.7 1820.9,623.9 1821.4,623.2C1822.0,622.6 1822.4,622.0 1822.7,621.4C1823.1,620.7 1823.5,620.1 1823.8,619.3C1824.1,618.6 1824.2,618.0 1824.6,616.8C1824.9,615.6 1825.4,613.6 1825.8,611.9C1826.2,610.3 1826.6,608.6 1827.0,606.9C1827.4,605.3 1827.8,603.7 1828.1,602.0C1828.5,600.4 1828.9,598.8 1829.3,597.1C1829.6,595.5 1829.9,593.8 1830.2,592.1C1830.5,590.5 1830.7,588.7 1831.0,587.1C1831.3,585.4 1831.5,583.8 1831.8,582.2C1832.1,580.5 1832.4,578.9 1832.7,577.3C1833.0,575.6 1833.3,574.0 1833.6,572.3C1834.0,570.6 1834.3,568.9 1834.6,567.2C1834.9,565.5 1835.1,564.5 1835.5,562.3C1835.9,560.1 1836.4,556.9 1837.0,554.2C1837.5,551.5 1838.0,548.0 1838.6,546.1C1839.2,544.1 1839.7,543.1 1840.4,542.4C1841.2,541.7 1842.2,541.9 1843.1,542.0C1843.9,542.1 1844.7,542.5 1845.5,543.0C1846.4,543.5 1847.3,544.6 1848.2,545.1C1849.0,545.5 1849.8,545.7 1850.6,545.7C1851.4,545.7 1852.4,545.7 1853.2,545.1C1854.1,544.5 1854.9,543.4 1855.7,542.0C1856.5,540.6 1857.4,539.1 1858.1,536.9C1858.9,534.7 1859.6,531.5 1860.4,528.8C1861.2,526.1 1862.0,523.0 1862.8,520.6C1863.7,518.2 1864.6,516.4 1865.5,514.5C1866.3,512.6 1867.1,511.3 1867.9,509.4C1868.7,507.6 1869.5,505.5 1870.4,503.3C1871.2,501.1 1872.1,498.4 1873.0,496.2C1873.9,494.0 1874.8,491.7 1875.7,490.1C1876.5,488.5 1877.3,488.1 1878.1,486.6C1878.9,485.1 1879.7,483.4 1880.5,480.9C1881.4,478.4 1882.3,474.5 1883.2,471.7C1884.1,469.0 1885.0,466.3 1885.8,464.6C1886.7,462.9 1887.5,462.2 1888.3,461.6C1889.1,460.9 1889.9,460.5 1890.7,460.5C1891.5,460.5 1892.2,460.5 1893.0,461.6C1893.7,462.6 1894.6,464.6 1895.4,466.6C1896.3,468.7 1897.2,471.6 1898.1,473.8C1898.9,476.0 1899.7,477.9 1900.5,479.9C1901.3,481.9 1902.1,484.0 1902.9,486.0C1903.8,488.0 1904.7,489.9 1905.6,492.1C1906.5,494.3 1907.4,496.7 1908.2,499.2C1909.1,501.8 1909.9,504.7 1910.7,507.4C1911.5,510.1 1912.3,512.6 1913.1,515.5C1914.0,518.4 1914.9,522.0 1915.8,524.7C1916.6,527.4 1917.4,529.9 1918.2,531.8C1919.1,533.8 1919.9,535.5 1920.9,536.3C1921.8,537.2 1922.9,536.8 1923.9,536.9C1924.9,537.0 1926.0,536.7 1927.0,536.9C1928.0,537.1 1929.1,537.3 1930.0,537.9C1931.0,538.6 1931.8,539.3 1932.7,541.0C1933.5,542.7 1934.5,546.4 1935.1,548.1C1935.8,549.8 1936.1,549.8 1936.6,551.1C1937.1,552.4 1937.5,554.4 1938.0,556.0C1938.5,557.6 1939.0,559.2 1939.6,560.8C1940.1,562.4 1940.6,564.1 1941.1,565.7C1941.6,567.3 1941.9,568.9 1942.4,570.5C1942.9,572.1 1943.3,573.6 1943.9,575.2C1944.5,576.9 1945.2,578.6 1946.0,580.1C1946.7,581.6 1947.5,582.9 1948.5,584.2C1949.6,585.5 1950.9,587.1 1952.3,587.8C1953.7,588.5 1955.5,588.9 1956.9,588.5C1958.3,588.1 1959.7,586.7 1960.7,585.4C1961.8,584.1 1962.5,582.3 1963.2,580.6C1963.8,579.0 1964.2,577.4 1964.7,575.8C1965.2,574.1 1965.8,572.6 1966.2,571.0C1966.7,569.4 1967.1,567.8 1967.6,566.2C1968.0,564.6 1968.3,563.0 1968.7,561.3C1969.0,559.6 1969.4,557.9 1969.8,556.2C1970.2,554.5 1970.1,555.4 1970.8,551.3C1971.5,547.3 1973.0,537.4 1973.8,531.8C1974.7,526.2 1975.2,522.0 1975.9,517.6C1976.5,513.2 1977.0,508.6 1977.5,505.3C1978.0,502.1 1978.3,499.7 1978.9,498.2C1979.5,496.7 1980.3,496.4 1980.9,496.2C1981.6,495.9 1982.2,496.4 1983.0,496.8C1983.8,497.2 1984.8,497.9 1985.6,498.8C1986.5,499.7 1987.3,501.3 1988.1,502.3C1988.9,503.3 1989.8,504.8 1990.5,504.9C1991.3,505.1 1991.9,504.6 1992.6,503.3C1993.2,502.0 1993.9,499.4 1994.6,497.2C1995.3,495.0 1996.0,492.6 1996.6,490.1C1997.3,487.5 1998.0,484.5 1998.7,481.9C1999.3,479.4 2000.0,476.8 2000.7,474.8C2001.4,472.8 2002.2,470.9 2002.9,469.7C2003.7,468.5 2004.5,468.2 2005.4,467.7C2006.3,467.1 2007.4,466.8 2008.4,466.2C2009.5,465.7 2010.5,465.2 2011.5,464.6C2012.4,464.0 2013.3,463.6 2014.1,462.6C2015.0,461.6 2015.8,460.0 2016.6,458.5C2017.4,457.0 2018.2,455.1 2019.0,453.4C2019.9,451.7 2020.8,449.8 2021.7,448.3C2022.6,446.9 2023.5,445.6 2024.3,444.7C2025.2,443.7 2026.0,443.0 2026.8,442.6C2027.6,442.2 2028.4,441.9 2029.2,442.2C2030.1,442.5 2031.0,443.2 2031.9,444.2C2032.7,445.3 2033.7,446.8 2034.5,448.3C2035.4,449.8 2036.1,451.5 2037.0,453.4C2037.8,455.3 2038.6,457.5 2039.4,459.5C2040.2,461.6 2041.3,464.1 2042.0,465.6C2042.8,467.2 2043.4,468.9 2044.1,468.7C2044.8,468.5 2045.4,466.6 2046.1,464.6C2046.8,462.6 2047.5,458.2 2048.2,456.5C2048.8,454.7 2049.5,454.2 2050.2,454.0C2050.9,453.9 2051.5,454.0 2052.2,455.4C2053.0,456.9 2053.8,459.7 2054.7,462.6C2055.5,465.5 2056.4,469.5 2057.3,472.8C2058.2,476.0 2059.1,479.0 2060.0,481.9C2060.9,484.8 2061.9,487.5 2062.8,490.1C2063.7,492.6 2064.6,495.2 2065.5,497.2C2066.4,499.2 2067.2,500.8 2068.1,502.3C2069.0,503.8 2070.1,505.0 2071.0,506.4C2071.9,507.7 2072.8,507.5 2073.6,510.4C2074.4,513.4 2075.1,520.1 2075.6,523.9C2076.1,527.6 2076.3,530.0 2076.7,533.0C2077.0,536.1 2077.3,539.3 2077.7,542.2C2078.0,545.1 2078.3,548.0 2078.7,550.3C2079.1,552.7 2079.4,554.8 2080.1,556.5C2080.8,558.2 2081.8,559.2 2082.8,560.5C2083.7,561.8 2084.8,563.0 2085.8,564.2C2086.8,565.4 2087.9,566.6 2088.9,567.7C2089.9,568.7 2091.0,569.5 2091.9,570.3C2092.9,571.1 2093.8,571.4 2094.6,572.3C2095.4,573.3 2096.0,574.4 2096.6,575.8C2097.2,577.2 2097.6,579.0 2098.0,580.9C2098.5,582.8 2099.0,585.0 2099.5,587.0C2099.9,589.0 2100.3,591.2 2100.7,593.1C2101.1,595.0 2101.7,597.2 2102.1,598.2C2102.5,599.2 2102.7,599.7 2103.1,599.2C2103.6,598.8 2104.1,596.9 2104.8,595.6C2105.4,594.2 2106.4,592.4 2107.2,591.1C2108.1,589.7 2109.0,588.4 2109.9,587.4C2110.7,586.4 2111.6,585.9 2112.3,585.0C2113.0,584.1 2113.7,583.3 2114.3,581.9C2114.9,580.6 2115.5,578.5 2116.0,576.8C2116.5,575.1 2116.9,573.4 2117.4,571.7C2117.9,570.0 2118.4,568.2 2119.0,566.6C2119.6,565.1 2120.2,563.9 2120.9,562.6C2121.5,561.2 2122.3,560.0 2123.1,558.5C2123.9,557.0 2124.8,555.3 2125.5,553.4C2126.3,551.5 2127.0,549.5 2127.6,547.3C2128.2,545.1 2128.7,542.7 2129.2,540.2C2129.7,537.6 2130.2,534.7 2130.6,532.0C2131.1,529.3 2131.6,526.6 2132.1,523.9C2132.5,521.2 2132.8,518.6 2133.3,515.7C2133.7,512.8 2134.2,509.6 2134.7,506.6C2135.2,503.5 2135.7,500.3 2136.1,497.4C2136.6,494.5 2136.9,492.0 2137.4,489.2C2137.8,486.5 2138.3,483.8 2138.8,481.1C2139.3,478.4 2139.8,475.5 2140.4,473.0C2141.0,470.4 2141.6,468.0 2142.2,465.8C2142.9,463.6 2143.6,461.6 2144.3,459.7C2145.0,457.8 2145.7,456.3 2146.5,454.6C2147.3,452.9 2148.1,451.3 2149.0,449.5C2149.8,447.8 2150.8,445.7 2151.6,444.0C2152.4,442.3 2153.0,440.8 2153.6,439.3C2154.3,437.9 2155.0,436.0 2155.3,435.3" stroke="#d92525" stroke-width="2.5" stroke-dasharray="0.01 5.12" stroke-linecap="round"/>
<clipPath id="plotclip"><rect x="190.55" y="68.43" width="1965.1700000000003" height="657.95"/></clipPath>
<path clip-path="url(#plotclip)" d="M198.39,437.30L326.89,437.30C329.81,437.30 332.32,440.01 332.73,437.30L338.57,359.30C338.98,356.59 341.49,359.30 344.41,359.30L467.07,359.30C469.99,359.30 472.45,356.62 472.91,359.30L478.75,427.70C479.21,430.38 481.67,427.70 484.59,427.70L607.25,427.70C610.17,427.70 612.68,424.99 613.09,427.70L618.93,505.20C619.34,507.91 621.85,505.20 624.77,505.20L747.43,505.20C750.35,505.20 752.37,507.63 753.27,505.20L759.11,473.70C760.01,471.27 762.03,473.70 764.95,473.70L887.61,473.70C890.53,473.70 892.83,471.11 893.45,473.70L899.29,522.50C899.91,525.09 902.21,522.50 905.13,522.50L1027.79,522.50C1030.71,522.50 1032.93,525.05 1033.63,522.50L1039.47,480.00C1040.17,477.45 1042.39,480.00 1045.31,480.00L1167.97,480.00C1170.89,480.00 1171.56,478.60 1173.81,480.00L1179.65,487.30C1181.90,488.70 1182.57,487.30 1185.49,487.30L1308.15,487.30C1311.07,487.30 1313.33,489.87 1313.99,487.30L1319.83,441.60C1320.49,439.03 1322.75,441.60 1325.67,441.60L1448.33,441.60C1451.25,441.60 1453.57,439.00 1454.17,441.60L1460.01,492.50C1460.61,495.10 1462.93,492.50 1465.85,492.50L1588.51,492.50C1591.43,492.50 1593.24,494.80 1594.35,492.50L1600.19,468.20C1601.30,465.90 1603.11,468.20 1606.03,468.20L1728.69,468.20C1731.61,468.20 1734.14,465.48 1734.53,468.20L1740.37,550.60C1740.76,553.32 1743.29,550.60 1746.21,550.60L1868.87,550.60C1871.79,550.60 1874.15,553.22 1874.71,550.60L1880.55,496.00C1881.11,493.38 1883.47,496.00 1886.39,496.00L2009.05,496.00C2011.97,496.00 2014.36,493.36 2014.89,496.00L2020.73,553.80C2021.26,556.44 2023.65,553.80 2026.57,553.80L2149.23,553.80C2152.15,553.80 2153.95,556.09 2155.07,553.80L2160.91,529.80C2162.03,527.51 2163.83,529.80 2166.75,529.80" stroke="#5b9bd5" stroke-width="2.6" stroke-linecap="round"/>
<path d="M198.39,440.30L326.89,440.30C329.81,440.30 332.34,443.02 332.73,440.30L338.57,358.90C338.96,356.18 341.49,358.90 344.41,358.90L467.07,358.90C469.99,358.90 472.13,356.40 472.91,358.90L478.75,396.60C479.53,399.10 481.67,396.60 484.59,396.60L607.25,396.60C610.17,396.60 612.65,393.91 613.09,396.60L618.93,467.50C619.37,470.19 621.85,467.50 624.77,467.50L747.43,467.50C750.35,467.50 752.31,469.89 753.27,467.50L759.11,438.30C760.07,435.91 762.03,438.30 764.95,438.30L887.61,438.30C890.53,438.30 892.92,435.66 893.45,438.30L899.29,496.20C899.82,498.84 902.21,496.20 905.13,496.20L1027.79,496.20C1030.71,496.20 1032.18,498.27 1033.63,496.20L1039.47,479.50C1040.92,477.43 1042.39,479.50 1045.31,479.50L1167.97,479.50C1170.89,479.50 1172.12,481.40 1173.81,479.50L1179.65,466.40C1181.34,464.50 1182.57,466.40 1185.49,466.40L1308.15,466.40C1311.07,466.40 1313.22,468.91 1313.99,466.40L1319.83,428.10C1320.60,425.59 1322.75,428.10 1325.67,428.10L1448.33,428.10C1451.25,428.10 1453.27,425.67 1454.17,428.10L1460.01,459.80C1460.91,462.23 1462.93,459.80 1465.85,459.80L1588.51,459.80C1591.43,459.80 1592.97,461.92 1594.35,459.80L1600.19,441.80C1601.57,439.68 1603.11,441.80 1606.03,441.80L1728.69,441.80C1731.61,441.80 1734.13,439.09 1734.53,441.80L1740.37,521.20C1740.77,523.91 1743.29,521.20 1746.21,521.20L1868.87,521.20C1871.79,521.20 1872.22,522.33 1874.71,521.20C1878.07,519.68 1877.20,517.42 1880.55,515.90C1883.04,514.77 1883.47,515.90 1886.39,515.90L2009.05,515.90C2011.97,515.90 2012.63,517.29 2014.89,515.90L2020.73,508.70C2022.99,507.31 2023.65,508.70 2026.57,508.70L2155.07,508.70" stroke="#ee1818" stroke-width="2.7" stroke-dasharray="6.8 10.8" stroke-linecap="round"/>
<path d="M198.4,264.6C199.1,266.4 201.2,273.1 202.3,275.4C203.4,277.7 203.9,278.6 205.0,278.5C206.0,278.4 207.2,275.9 208.4,274.8C209.7,273.7 211.1,272.6 212.5,272.0C213.9,271.3 215.0,271.0 216.6,271.0C218.1,271.0 220.1,271.6 221.7,272.0C223.2,272.4 224.7,272.7 225.7,273.4C226.8,274.1 227.2,274.2 227.8,276.5C228.4,278.7 228.8,282.2 229.4,286.6C230.0,291.1 230.7,298.2 231.4,302.9C232.2,307.7 233.0,311.4 233.9,315.2C234.8,318.9 235.9,322.9 236.9,325.3C238.0,327.8 239.0,329.1 240.0,329.8C241.0,330.5 241.7,329.9 243.0,329.4C244.4,328.9 246.4,327.5 248.1,326.8C249.8,326.0 251.7,325.3 253.2,324.9C254.8,324.6 255.9,324.5 257.3,324.5C258.7,324.6 259.8,325.3 261.4,325.3C262.9,325.4 264.6,324.9 266.5,324.7C268.3,324.5 270.5,324.5 272.6,324.1C274.6,323.7 276.6,322.9 278.7,322.3C280.7,321.7 283.1,321.2 284.8,320.7C286.5,320.1 287.7,319.6 288.9,319.2C290.1,318.8 290.7,318.2 291.9,318.2C293.1,318.2 294.6,319.0 296.0,319.2C297.4,319.5 298.9,319.7 300.1,319.6C301.3,319.6 302.3,320.9 303.1,318.8C304.0,316.7 304.6,312.4 305.2,307.0C305.7,301.6 306.1,294.1 306.6,286.6C307.1,279.2 307.6,269.0 308.2,262.2C308.8,255.4 309.5,250.5 310.3,245.9C311.0,241.3 312.1,237.3 312.9,234.7C313.8,232.1 314.4,230.8 315.3,230.2C316.3,229.6 317.5,230.8 318.4,231.0C319.4,231.3 320.2,232.1 321.0,231.6C321.9,231.2 322.6,229.9 323.5,228.6C324.4,227.3 325.5,225.1 326.5,223.9C327.6,222.7 328.7,221.9 329.6,221.5C330.5,221.0 331.2,220.8 332.0,221.1C332.9,221.3 333.7,221.8 334.7,223.1C335.6,224.4 336.6,226.2 337.7,228.6C338.9,231.0 340.5,234.5 341.8,237.8C343.2,241.0 344.5,244.5 345.9,247.9C347.3,251.3 348.6,255.2 350.0,258.1C351.3,261.0 352.7,263.0 354.0,265.3C355.4,267.5 356.8,269.4 358.1,271.4C359.5,273.3 360.8,275.3 362.2,276.9C363.5,278.4 365.2,278.9 366.3,280.5C367.3,282.2 367.6,283.9 368.3,286.6C369.0,289.4 369.7,293.4 370.3,296.8C371.0,300.2 371.7,304.5 372.4,307.0C373.1,309.5 373.6,310.7 374.4,311.7C375.3,312.6 376.6,312.9 377.5,312.7C378.3,312.5 378.8,312.3 379.5,310.7C380.2,309.0 380.9,306.3 381.5,302.9C382.2,299.6 382.9,295.5 383.6,290.7C384.3,286.0 384.9,280.2 385.6,274.4C386.3,268.6 387.0,262.2 387.6,256.1C388.3,250.0 389.0,243.2 389.7,237.8C390.4,232.3 390.9,227.7 391.7,223.5C392.6,219.3 393.8,215.5 394.8,212.3C395.8,209.1 396.8,206.4 397.8,204.2C398.8,201.9 399.9,200.3 400.9,199.1C401.9,197.9 402.9,197.3 403.9,197.0C405.0,196.8 406.0,196.9 407.0,197.4C408.0,197.9 409.2,199.0 410.1,200.1C410.9,201.2 411.4,203.2 412.1,204.2C412.8,205.1 413.4,205.8 414.1,205.8C414.8,205.8 415.3,205.6 416.2,204.2C417.0,202.7 418.2,199.6 419.2,197.0C420.2,194.5 421.3,191.4 422.3,188.9C423.3,186.3 424.4,183.2 425.3,181.8C426.2,180.3 426.9,180.3 427.8,180.3C428.6,180.3 429.5,180.8 430.4,181.8C431.4,182.7 432.5,183.8 433.5,185.8C434.5,187.9 435.7,190.7 436.5,194.0C437.4,197.2 438.0,200.6 438.6,205.2C439.1,209.8 439.5,216.0 440.0,221.5C440.5,226.9 441.1,233.5 441.6,237.8C442.2,242.0 442.7,245.2 443.2,246.9C443.8,248.6 444.2,248.6 444.7,247.9C445.2,247.3 445.6,246.2 446.3,242.9C447.0,239.5 447.8,231.8 448.7,227.6C449.7,223.3 450.8,220.1 451.8,217.4C452.8,214.7 454.0,212.4 454.9,211.3C455.7,210.2 456.2,210.7 456.9,210.9C457.6,211.0 458.3,212.1 458.9,212.3C459.6,212.5 460.3,213.5 461.0,212.3C461.6,211.1 462.3,208.9 463.0,205.2C463.7,201.4 464.4,194.1 465.0,189.9C465.7,185.7 466.3,182.2 467.1,179.7C467.9,177.2 468.9,176.0 469.7,175.0C470.6,174.0 471.4,173.4 472.2,173.6C473.0,173.8 473.8,174.7 474.6,176.3C475.5,177.8 476.3,180.2 477.3,182.8C478.2,185.4 479.1,188.4 480.3,191.9C481.5,195.5 483.0,200.6 484.4,204.2C485.7,207.7 487.1,210.3 488.5,213.3C489.8,216.4 491.2,219.6 492.5,222.5C493.9,225.4 495.3,228.3 496.6,230.6C498.0,233.0 499.3,235.0 500.7,236.7C502.0,238.4 503.7,239.6 504.8,240.8C505.8,242.0 506.5,242.0 507.2,243.9C507.9,245.7 508.2,248.3 508.8,252.0C509.4,255.8 510.2,262.0 510.9,266.3C511.5,270.5 512.2,274.5 512.9,277.5C513.6,280.5 514.5,282.6 515.3,284.2C516.2,285.8 517.2,286.7 518.0,287.0C518.8,287.4 519.4,287.3 520.0,286.2C520.7,285.1 521.4,283.2 522.1,280.5C522.7,277.9 523.4,274.4 524.1,270.3C524.8,266.3 525.5,261.5 526.1,256.1C526.8,250.7 527.5,243.9 528.2,237.8C528.9,231.6 529.5,224.4 530.2,219.4C530.9,214.5 531.4,211.3 532.3,208.2C533.1,205.2 534.3,203.4 535.3,201.1C536.3,198.8 537.3,197.0 538.4,194.6C539.4,192.2 540.4,188.8 541.4,186.8C542.4,184.9 543.5,183.4 544.5,182.8C545.5,182.2 546.5,182.5 547.5,183.2C548.5,183.9 549.7,185.6 550.6,186.8C551.4,188.1 552.0,190.1 552.6,190.9C553.2,191.8 553.5,192.3 554.0,191.9C554.6,191.6 555.3,191.1 556.1,188.9C556.9,186.7 557.8,182.1 558.7,178.7C559.7,175.3 560.8,171.6 561.8,168.5C562.8,165.5 563.9,162.1 564.8,160.4C565.8,158.6 566.6,158.1 567.5,157.9C568.4,157.8 569.4,158.4 570.3,159.3C571.3,160.3 572.0,161.4 573.0,163.4C573.9,165.5 575.1,168.0 576.0,171.6C577.0,175.1 577.8,179.2 578.5,184.8C579.2,190.4 579.6,199.1 580.1,205.2C580.7,211.3 581.2,217.1 581.7,221.5C582.3,225.9 582.7,229.8 583.2,231.6C583.6,233.5 584.1,233.3 584.6,232.7C585.1,232.0 585.6,230.5 586.2,227.6C586.8,224.7 587.5,219.1 588.3,215.4C589.0,211.6 589.9,207.9 590.7,205.2C591.6,202.5 592.5,200.4 593.4,199.1C594.2,197.7 595.1,197.0 596.0,197.0C596.8,197.0 597.6,198.6 598.4,199.1C599.3,199.5 600.3,200.7 601.1,199.7C601.8,198.7 602.3,196.1 602.9,193.0C603.5,189.8 604.0,184.6 604.6,180.7C605.1,176.8 605.5,172.2 606.2,169.5C606.9,166.8 607.7,165.5 608.6,164.4C609.5,163.4 610.7,162.8 611.7,163.0C612.6,163.2 613.5,164.2 614.3,165.5C615.2,166.7 615.9,168.2 616.8,170.5C617.7,172.9 618.8,176.5 619.8,179.7C620.8,182.9 621.9,186.7 622.9,189.9C623.9,193.1 624.7,196.2 625.9,199.1C627.1,201.9 628.7,204.5 630.0,207.2C631.4,209.9 632.7,212.5 634.1,215.4C635.4,218.2 636.8,221.6 638.2,224.5C639.5,227.4 641.0,230.9 642.2,232.7C643.4,234.5 644.4,234.6 645.3,235.3C646.2,236.0 647.1,235.3 647.7,236.7C648.4,238.2 648.7,240.3 649.4,243.9C650.0,247.4 650.7,254.1 651.4,258.1C652.1,262.2 652.7,265.8 653.4,268.3C654.2,270.9 655.0,272.2 655.9,273.4C656.7,274.6 657.7,275.6 658.5,275.4C659.3,275.3 659.9,274.2 660.6,272.4C661.2,270.5 661.9,268.0 662.6,264.2C663.3,260.5 663.9,255.8 664.6,250.0C665.4,244.2 666.4,236.4 667.2,229.6C668.0,222.8 668.5,215.0 669.3,209.2C670.0,203.5 670.9,198.5 671.7,195.0C672.5,191.5 673.4,190.5 674.3,188.5C675.3,186.4 676.4,185.4 677.4,182.8C678.4,180.1 679.4,175.5 680.5,172.6C681.5,169.7 682.5,167.1 683.5,165.5C684.5,163.8 685.7,163.3 686.6,162.8C687.4,162.4 687.9,162.2 688.6,162.8C689.3,163.4 690.0,165.0 690.6,166.5C691.3,167.9 692.0,170.4 692.7,171.6C693.4,172.8 694.0,173.6 694.7,173.6C695.4,173.6 695.9,173.3 696.8,171.6C697.6,169.9 698.8,166.1 699.8,163.4C700.8,160.7 701.9,157.5 702.9,155.3C703.8,153.1 704.7,151.2 705.5,150.2C706.3,149.2 706.8,149.0 707.5,149.2C708.3,149.3 709.1,149.8 710.0,151.2C710.9,152.6 712.1,154.8 713.0,157.3C714.0,159.9 714.8,162.9 715.7,166.5C716.5,170.0 717.4,173.6 718.1,178.7C718.9,183.8 719.6,191.3 720.2,197.0C720.8,202.8 721.3,208.9 721.8,213.3C722.3,217.7 722.8,221.3 723.2,223.5C723.7,225.7 724.1,226.6 724.7,226.6C725.2,226.6 725.6,226.0 726.3,223.5C727.0,221.0 727.9,214.8 728.7,211.3C729.6,207.7 730.5,204.8 731.4,202.1C732.3,199.5 733.2,196.9 734.0,195.4C734.8,193.9 735.4,193.1 736.1,193.4C736.7,193.6 737.5,195.8 738.1,197.0C738.7,198.2 739.0,199.8 739.5,200.5C740.0,201.2 740.6,201.8 741.2,201.1C741.7,200.4 742.4,198.4 743.0,196.0C743.6,193.6 744.0,190.4 744.6,186.8C745.2,183.3 745.9,177.8 746.6,174.6C747.4,171.4 748.2,169.3 749.1,167.5C749.9,165.7 751.0,164.6 751.7,163.8C752.5,163.1 753.0,162.7 753.8,163.0C754.5,163.3 755.4,164.1 756.2,165.5C757.1,166.8 757.9,168.8 758.9,171.0C759.8,173.2 760.7,175.4 761.9,178.7C763.1,182.0 764.6,186.8 766.0,190.9C767.4,195.0 768.7,199.2 770.1,203.1C771.4,207.0 772.8,211.1 774.1,214.3C775.5,217.6 776.9,220.1 778.2,222.5C779.6,224.9 781.1,227.2 782.3,228.6C783.5,230.0 784.4,230.3 785.3,231.0C786.3,231.8 787.1,231.8 787.8,233.3C788.5,234.7 788.8,236.8 789.4,239.8C790.0,242.7 790.7,246.9 791.5,251.0C792.2,255.1 793.1,260.0 793.9,264.2C794.7,268.5 795.8,273.3 796.5,276.5C797.3,279.6 798.0,281.6 798.6,283.0C799.2,284.3 799.6,284.8 800.2,284.6C800.8,284.4 801.3,283.6 802.0,281.5C802.8,279.5 803.7,276.3 804.7,272.4C805.6,268.5 806.7,262.9 807.7,258.1C808.8,253.4 809.8,247.8 810.8,243.9C811.8,240.0 812.7,237.5 813.9,234.7C815.0,231.9 816.6,229.2 817.9,227.2C819.3,225.1 820.7,223.4 822.0,222.5C823.3,221.6 824.5,221.7 825.7,221.9C826.9,222.0 828.0,222.6 829.1,223.5C830.2,224.4 831.2,226.2 832.2,227.2C833.2,228.2 834.2,229.3 835.2,229.6C836.3,229.9 837.4,229.2 838.3,229.0C839.2,228.8 839.9,228.3 840.7,228.6C841.6,228.9 842.4,229.9 843.4,230.6C844.3,231.4 845.3,232.4 846.4,233.3C847.6,234.1 849.4,234.8 850.5,235.7C851.6,236.6 852.1,237.3 853.0,238.8C853.8,240.3 854.7,243.0 855.6,244.9C856.6,246.8 857.6,248.9 858.7,250.0C859.7,251.1 860.9,251.3 861.7,251.6C862.6,251.9 863.2,252.9 863.8,251.6C864.3,250.3 864.7,247.9 865.2,243.9C865.6,239.9 866.0,233.7 866.4,227.6C866.8,221.5 867.3,213.3 867.8,207.2C868.3,201.1 868.8,195.3 869.5,190.9C870.1,186.5 870.8,183.3 871.5,180.7C872.2,178.2 873.1,176.7 873.9,175.6C874.8,174.6 875.6,174.3 876.4,174.6C877.1,175.0 877.7,176.4 878.4,177.7C879.1,179.0 879.9,181.4 880.7,182.4C881.4,183.3 882.0,183.3 882.7,183.4C883.4,183.4 884.3,182.9 885.1,182.8C886.0,182.6 886.7,182.1 887.6,182.4C888.4,182.6 889.3,183.5 890.2,184.4C891.2,185.3 892.1,186.4 893.3,187.9C894.5,189.3 896.0,190.9 897.4,193.0C898.7,195.0 900.1,197.4 901.4,200.1C902.8,202.8 904.2,206.0 905.5,209.2C906.9,212.5 908.2,216.2 909.6,219.4C910.9,222.7 912.3,225.9 913.7,228.6C915.0,231.3 916.4,233.5 917.7,235.7C919.1,237.9 920.4,240.2 921.8,241.8C923.2,243.5 924.8,244.3 925.9,245.5C927.0,246.7 927.6,247.0 928.3,249.0C929.0,250.9 929.3,253.5 929.9,257.1C930.6,260.7 931.3,266.1 932.0,270.3C932.7,274.6 933.3,278.5 934.0,282.6C934.7,286.6 935.4,291.1 936.1,294.8C936.7,298.5 937.4,302.3 938.1,305.0C938.8,307.6 939.5,309.7 940.1,310.7C940.8,311.7 941.3,311.2 942.2,311.1C943.0,310.9 944.2,310.1 945.2,309.9C946.2,309.6 947.3,309.7 948.3,309.7C949.3,309.6 950.3,309.9 951.3,309.7C952.4,309.4 953.4,308.7 954.4,308.2C955.4,307.7 956.4,306.9 957.4,306.6C958.5,306.3 959.5,306.4 960.5,306.4C961.5,306.4 962.5,306.8 963.6,306.6C964.6,306.4 965.4,305.7 966.6,305.0C967.8,304.2 969.2,303.0 970.7,302.1C972.2,301.3 974.1,300.7 975.8,299.9C977.5,299.1 979.5,298.1 980.9,297.2C982.2,296.4 983.0,295.5 983.9,294.8C984.9,294.1 985.7,293.3 986.6,293.2C987.4,293.0 988.1,293.2 989.0,293.8C989.9,294.3 991.0,295.5 992.1,296.4C993.1,297.3 994.3,298.6 995.1,299.3C996.0,299.9 996.5,300.4 997.2,300.3C997.8,300.2 998.5,299.6 999.2,298.9C999.9,298.1 1000.6,297.3 1001.2,295.8C1001.9,294.3 1002.7,292.6 1003.3,289.7C1003.9,286.8 1004.4,283.8 1004.9,278.5C1005.4,273.2 1005.8,265.3 1006.3,258.1C1006.8,251.0 1007.2,242.5 1007.7,235.7C1008.3,228.9 1008.8,222.1 1009.4,217.4C1010.0,212.6 1010.7,209.8 1011.4,207.2C1012.2,204.7 1013.0,203.3 1013.9,202.1C1014.7,200.9 1015.7,200.3 1016.5,200.1C1017.3,199.9 1017.9,200.5 1018.5,201.1C1019.2,201.7 1019.7,203.1 1020.6,203.7C1021.4,204.4 1022.6,204.9 1023.6,205.2C1024.7,205.4 1025.7,205.3 1026.7,205.2C1027.7,205.0 1028.7,204.5 1029.7,204.2C1030.8,203.8 1031.8,203.1 1032.8,203.1C1033.8,203.1 1034.6,203.5 1035.4,204.2C1036.3,204.8 1037.0,205.7 1037.9,207.2C1038.8,208.7 1039.9,210.9 1040.9,213.3C1042.0,215.7 1043.0,218.8 1044.0,221.5C1045.0,224.2 1046.0,226.9 1047.1,229.6C1048.1,232.3 1048.9,235.2 1050.1,237.8C1051.3,240.3 1052.8,242.9 1054.2,244.9C1055.5,246.9 1056.9,248.4 1058.3,250.0C1059.6,251.6 1061.1,253.3 1062.3,254.5C1063.5,255.6 1064.4,256.2 1065.4,257.1C1066.3,258.1 1067.3,258.5 1068.0,260.2C1068.8,261.9 1069.4,264.2 1070.1,267.3C1070.8,270.3 1071.4,275.1 1072.1,278.5C1072.8,281.9 1073.4,285.1 1074.1,287.7C1074.9,290.2 1075.8,292.4 1076.6,293.8C1077.4,295.1 1078.3,296.0 1079.0,295.8C1079.8,295.6 1080.5,294.6 1081.1,292.7C1081.7,290.9 1082.1,288.7 1082.7,284.6C1083.3,280.5 1084.1,274.1 1084.7,268.3C1085.4,262.5 1086.1,256.1 1086.8,250.0C1087.5,243.9 1088.1,237.8 1088.8,231.6C1089.5,225.5 1090.1,218.9 1090.8,213.3C1091.6,207.7 1092.4,202.3 1093.3,198.0C1094.1,193.8 1095.0,190.6 1095.9,187.9C1096.9,185.1 1098.0,183.3 1099.0,181.8C1100.0,180.2 1101.0,179.1 1102.0,178.3C1103.1,177.5 1104.2,177.1 1105.1,177.1C1106.0,177.1 1106.7,177.3 1107.5,178.3C1108.4,179.2 1109.3,181.0 1110.2,182.8C1111.1,184.5 1112.0,187.5 1112.8,188.9C1113.7,190.2 1114.5,191.1 1115.3,190.9C1116.0,190.7 1116.6,189.7 1117.3,187.9C1118.1,186.0 1118.9,182.3 1119.8,179.7C1120.6,177.2 1121.5,174.6 1122.4,172.6C1123.3,170.5 1124.2,168.6 1125.1,167.5C1125.9,166.4 1126.7,165.9 1127.5,165.9C1128.3,165.9 1129.1,166.5 1129.9,167.5C1130.8,168.4 1131.8,169.9 1132.6,171.6C1133.4,173.3 1133.9,175.3 1134.6,177.7C1135.4,180.1 1136.5,182.6 1137.2,185.8C1137.9,189.0 1138.3,192.8 1138.8,197.0C1139.4,201.3 1139.8,206.7 1140.3,211.3C1140.8,215.9 1141.3,221.1 1141.9,224.5C1142.5,228.0 1143.2,230.6 1143.7,232.1C1144.3,233.5 1144.8,233.7 1145.4,233.3C1145.9,232.9 1146.4,231.8 1147.0,229.6C1147.6,227.5 1148.3,223.5 1149.0,220.4C1149.8,217.4 1150.6,213.8 1151.5,211.3C1152.3,208.8 1153.3,207.0 1154.1,205.6C1155.0,204.2 1155.8,203.1 1156.6,202.7C1157.3,202.4 1157.9,203.1 1158.6,203.5C1159.3,204.0 1160.0,204.9 1160.6,205.2C1161.3,205.4 1161.7,206.2 1162.3,205.2C1162.8,204.2 1163.5,201.6 1164.1,199.1C1164.7,196.5 1165.1,192.8 1165.7,189.9C1166.3,187.0 1167.0,183.8 1167.8,181.8C1168.5,179.7 1169.4,178.5 1170.2,177.7C1171.1,176.8 1172.0,176.5 1172.9,176.7C1173.7,176.8 1174.5,177.3 1175.3,178.7C1176.2,180.1 1177.0,182.3 1178.0,184.8C1178.9,187.4 1180.0,190.9 1181.0,194.0C1182.0,197.0 1183.0,200.3 1184.1,203.1C1185.1,206.0 1186.1,208.7 1187.1,211.3C1188.1,213.8 1189.2,216.0 1190.2,218.4C1191.2,220.8 1192.2,223.3 1193.2,225.5C1194.2,227.7 1195.3,229.9 1196.3,231.6C1197.3,233.4 1198.3,234.9 1199.3,236.1C1200.4,237.4 1201.4,238.4 1202.4,239.2C1203.4,239.9 1204.5,240.2 1205.4,240.6C1206.4,241.1 1207.2,240.8 1207.9,241.8C1208.6,242.9 1208.9,244.5 1209.5,246.9C1210.1,249.3 1210.9,253.0 1211.6,256.1C1212.2,259.1 1212.9,262.5 1213.6,265.3C1214.3,268.0 1215.0,270.2 1215.6,272.4C1216.3,274.6 1217.1,277.1 1217.7,278.5C1218.3,279.9 1218.7,280.5 1219.3,280.5C1219.9,280.5 1220.6,280.0 1221.1,278.5C1221.7,277.0 1222.1,274.8 1222.8,271.4C1223.4,268.0 1224.1,263.0 1224.8,258.1C1225.5,253.2 1226.2,247.4 1226.8,241.8C1227.5,236.2 1228.2,230.3 1228.9,224.5C1229.5,218.8 1230.2,211.6 1230.9,207.2C1231.6,202.8 1232.1,200.8 1232.9,198.0C1233.8,195.3 1235.0,193.0 1236.0,190.9C1237.0,188.9 1238.0,187.2 1239.1,185.8C1240.1,184.5 1241.1,183.5 1242.1,182.8C1243.1,182.1 1244.2,181.8 1245.2,181.5C1246.1,181.3 1247.0,181.0 1247.8,181.3C1248.6,181.7 1249.2,182.5 1249.8,183.8C1250.5,185.0 1251.0,187.3 1251.7,188.9C1252.3,190.5 1253.1,192.4 1253.7,193.4C1254.3,194.3 1254.7,194.8 1255.3,194.4C1256.0,194.0 1256.6,192.7 1257.4,190.9C1258.1,189.2 1259.0,186.2 1259.8,183.8C1260.7,181.4 1261.6,178.5 1262.5,176.7C1263.4,174.8 1264.3,173.5 1265.1,172.6C1266.0,171.6 1266.8,171.0 1267.6,171.0C1268.4,170.9 1269.2,171.4 1270.0,172.2C1270.9,173.0 1271.8,174.0 1272.7,175.6C1273.5,177.2 1274.5,179.4 1275.3,181.8C1276.2,184.1 1277.1,186.7 1277.7,189.9C1278.4,193.1 1278.9,196.9 1279.4,201.1C1279.9,205.3 1280.3,210.9 1280.8,215.4C1281.3,219.8 1281.7,224.0 1282.2,227.6C1282.7,231.1 1283.4,234.9 1283.9,236.7C1284.4,238.6 1284.8,239.1 1285.3,238.8C1285.8,238.4 1286.3,236.9 1286.9,234.7C1287.5,232.5 1288.2,228.6 1289.0,225.5C1289.7,222.5 1290.5,219.1 1291.4,216.4C1292.2,213.7 1293.2,210.9 1294.0,209.2C1294.9,207.5 1295.9,206.5 1296.7,206.2C1297.5,205.9 1298.1,207.0 1298.7,207.6C1299.4,208.2 1300.0,209.5 1300.6,209.9C1301.1,210.2 1301.6,211.0 1302.2,209.9C1302.7,208.7 1303.3,206.1 1303.8,203.1C1304.4,200.1 1304.9,195.5 1305.4,191.9C1306.0,188.4 1306.6,184.2 1307.3,181.8C1307.9,179.3 1308.5,178.2 1309.3,177.3C1310.1,176.4 1311.2,176.3 1312.0,176.3C1312.7,176.3 1313.3,176.2 1314.0,177.3C1314.7,178.4 1315.5,180.3 1316.4,182.8C1317.4,185.2 1318.5,188.7 1319.5,191.9C1320.5,195.2 1321.5,198.9 1322.6,202.1C1323.6,205.3 1324.6,208.6 1325.6,211.3C1326.6,214.0 1327.5,216.0 1328.7,218.4C1329.9,220.8 1331.4,223.3 1332.7,225.5C1334.1,227.7 1335.5,229.6 1336.8,231.6C1338.2,233.7 1339.5,235.9 1340.9,237.8C1342.2,239.6 1343.8,241.6 1345.0,242.9C1346.1,244.1 1347.2,244.3 1348.0,245.5C1348.8,246.7 1349.1,247.5 1349.6,250.0C1350.2,252.4 1350.8,256.6 1351.5,260.2C1352.1,263.7 1352.8,268.0 1353.5,271.4C1354.2,274.8 1354.8,278.0 1355.5,280.5C1356.3,283.1 1357.1,285.3 1357.8,286.6C1358.5,287.9 1359.0,288.4 1359.6,288.3C1360.3,288.1 1361.0,287.6 1361.7,285.6C1362.3,283.7 1363.0,280.4 1363.7,276.5C1364.4,272.6 1365.1,267.3 1365.7,262.2C1366.4,257.1 1367.1,251.7 1367.8,245.9C1368.4,240.1 1369.1,233.5 1369.8,227.6C1370.5,221.6 1371.2,214.8 1371.8,210.3C1372.5,205.7 1373.1,203.0 1373.9,200.1C1374.7,197.2 1375.6,195.3 1376.5,193.0C1377.5,190.6 1378.6,187.7 1379.6,185.8C1380.6,184.0 1381.7,182.7 1382.6,181.8C1383.6,180.8 1384.4,180.3 1385.3,180.3C1386.1,180.3 1386.9,180.8 1387.7,181.8C1388.6,182.7 1389.5,184.1 1390.4,185.8C1391.2,187.5 1392.0,190.4 1392.8,191.9C1393.6,193.5 1394.5,195.0 1395.3,195.0C1396.0,195.0 1396.5,193.8 1397.3,191.9C1398.1,190.1 1399.1,186.5 1399.9,183.8C1400.8,181.1 1401.7,178.0 1402.6,175.6C1403.5,173.3 1404.5,171.1 1405.4,169.5C1406.4,168.0 1407.2,167.1 1408.1,166.5C1408.9,165.9 1409.7,165.9 1410.5,166.1C1411.4,166.2 1412.3,166.4 1413.2,167.5C1414.1,168.6 1415.0,170.4 1415.8,172.6C1416.7,174.8 1417.6,177.3 1418.3,180.7C1419.0,184.1 1419.4,188.5 1419.9,193.0C1420.4,197.4 1420.9,202.5 1421.3,207.2C1421.8,212.0 1422.3,217.6 1422.8,221.5C1423.3,225.4 1423.9,228.8 1424.4,230.6C1424.9,232.5 1425.3,233.0 1425.8,232.7C1426.3,232.3 1426.8,230.6 1427.4,228.6C1428.1,226.6 1428.7,223.0 1429.5,220.4C1430.3,217.9 1431.3,215.4 1432.1,213.3C1433.0,211.3 1433.8,209.3 1434.6,208.2C1435.4,207.1 1436.3,206.5 1437.0,206.6C1437.8,206.7 1438.4,208.2 1439.1,208.8C1439.7,209.5 1440.5,210.6 1441.1,210.7C1441.7,210.7 1442.2,210.7 1442.7,209.2C1443.3,207.8 1443.8,205.0 1444.3,202.1C1444.9,199.2 1445.4,195.2 1446.0,191.9C1446.6,188.7 1447.1,185.1 1447.8,182.8C1448.5,180.4 1449.4,178.8 1450.3,177.7C1451.1,176.6 1452.1,176.1 1452.9,176.3C1453.8,176.4 1454.5,177.1 1455.3,178.7C1456.2,180.3 1457.0,182.8 1458.0,185.8C1458.9,188.9 1460.0,193.1 1461.0,197.0C1462.1,200.9 1463.1,205.5 1464.1,209.2C1465.1,213.0 1466.1,216.4 1467.2,219.4C1468.2,222.5 1469.2,225.2 1470.2,227.6C1471.2,230.0 1472.3,231.9 1473.3,233.7C1474.3,235.5 1475.3,236.7 1476.3,238.4C1477.3,240.1 1478.4,242.3 1479.4,243.9C1480.4,245.5 1481.4,247.1 1482.4,247.9C1483.5,248.8 1484.6,248.8 1485.5,249.0C1486.4,249.1 1487.3,248.3 1487.9,249.0C1488.6,249.6 1489.0,250.8 1489.6,253.0C1490.2,255.2 1490.9,259.1 1491.6,262.2C1492.3,265.3 1493.2,268.8 1494.0,271.4C1494.9,273.9 1495.8,276.0 1496.7,277.5C1497.6,278.9 1498.6,280.0 1499.3,280.1C1500.1,280.3 1500.7,280.0 1501.4,278.5C1502.1,277.0 1502.7,274.6 1503.4,271.4C1504.1,268.1 1504.8,263.7 1505.4,259.1C1506.1,254.6 1506.8,249.5 1507.5,243.9C1508.2,238.3 1508.8,231.3 1509.5,225.5C1510.2,219.8 1510.9,214.0 1511.6,209.2C1512.2,204.5 1512.8,200.4 1513.6,197.0C1514.3,193.6 1515.1,191.4 1516.0,188.9C1517.0,186.3 1518.1,183.8 1519.1,181.8C1520.1,179.7 1521.2,177.7 1522.1,176.7C1523.1,175.6 1523.9,175.1 1524.8,175.2C1525.6,175.3 1526.3,176.2 1527.2,177.3C1528.2,178.4 1529.3,180.4 1530.3,181.8C1531.2,183.1 1532.1,184.4 1532.9,185.2C1533.8,186.0 1534.6,186.7 1535.4,186.4C1536.1,186.2 1536.6,185.4 1537.4,183.8C1538.2,182.2 1539.2,179.2 1540.1,176.7C1541.0,174.1 1542.0,170.9 1542.9,168.5C1543.8,166.1 1544.7,163.8 1545.6,162.4C1546.5,161.0 1547.4,160.3 1548.2,160.0C1549.1,159.6 1549.8,159.8 1550.7,160.4C1551.5,160.9 1552.4,161.8 1553.3,163.4C1554.2,165.1 1555.2,167.4 1556.2,170.1C1557.1,172.9 1558.1,176.3 1558.8,179.7C1559.5,183.2 1559.9,186.7 1560.4,190.9C1560.9,195.2 1561.4,200.4 1561.9,205.2C1562.3,209.9 1562.8,215.7 1563.3,219.4C1563.7,223.2 1564.1,226.0 1564.5,227.6C1565.0,229.1 1565.5,229.3 1565.9,228.6C1566.4,227.9 1566.8,226.4 1567.4,223.5C1567.9,220.6 1568.6,214.7 1569.4,211.3C1570.2,207.9 1571.2,205.2 1572.0,203.1C1572.9,201.0 1573.8,199.7 1574.7,198.7C1575.5,197.6 1576.4,196.8 1577.1,197.0C1577.9,197.3 1578.5,199.1 1579.2,200.1C1579.9,201.1 1580.6,202.8 1581.2,203.1C1581.8,203.5 1582.3,203.5 1582.8,202.1C1583.4,200.8 1583.8,198.0 1584.3,195.0C1584.7,191.9 1585.2,187.0 1585.7,183.8C1586.2,180.6 1586.7,177.5 1587.3,175.6C1587.9,173.8 1588.6,173.2 1589.4,172.6C1590.1,172.0 1591.0,172.0 1591.8,172.2C1592.7,172.3 1593.6,172.3 1594.5,173.6C1595.3,174.9 1596.2,177.0 1597.1,179.7C1598.0,182.4 1599.0,186.7 1599.9,189.9C1600.9,193.1 1601.7,196.3 1602.6,199.1C1603.4,201.8 1604.1,204.0 1605.0,206.2C1606.0,208.4 1607.2,210.0 1608.2,212.3C1609.3,214.6 1610.3,217.3 1611.3,219.8C1612.3,222.4 1613.3,225.3 1614.3,227.6C1615.4,229.9 1616.4,231.8 1617.4,233.7C1618.4,235.6 1619.4,237.7 1620.5,239.2C1621.5,240.7 1622.5,242.0 1623.5,242.9C1624.5,243.7 1625.7,243.8 1626.6,244.3C1627.5,244.8 1628.3,244.8 1629.0,245.9C1629.7,247.0 1630.1,248.6 1630.6,251.0C1631.2,253.4 1631.7,257.1 1632.3,260.2C1632.8,263.2 1633.5,266.8 1634.1,269.3C1634.7,271.9 1635.4,274.0 1636.1,275.4C1636.9,276.9 1637.7,277.6 1638.4,278.1C1639.1,278.6 1639.8,279.1 1640.4,278.5C1641.1,277.9 1641.7,276.6 1642.3,274.4C1642.8,272.2 1643.3,269.7 1643.9,265.3C1644.5,260.8 1645.2,253.9 1645.9,247.9C1646.6,242.0 1647.3,235.6 1648.0,229.6C1648.6,223.7 1649.3,217.7 1650.0,212.3C1650.7,206.9 1651.3,201.3 1652.0,197.0C1652.7,192.8 1653.3,189.9 1654.1,186.8C1654.8,183.8 1655.8,181.2 1656.7,178.7C1657.7,176.2 1658.7,173.5 1659.8,171.6C1660.8,169.6 1661.9,167.8 1662.8,166.9C1663.7,165.9 1664.4,165.8 1665.3,165.9C1666.1,165.9 1667.0,166.1 1667.9,167.1C1668.8,168.0 1669.9,169.8 1670.8,171.6C1671.6,173.3 1672.3,175.9 1673.0,177.7C1673.7,179.5 1674.3,181.4 1674.8,182.4C1675.4,183.3 1675.9,183.8 1676.5,183.2C1677.1,182.6 1677.8,180.8 1678.5,178.7C1679.2,176.6 1680.1,173.3 1680.9,170.5C1681.8,167.8 1682.7,164.8 1683.6,162.4C1684.5,160.0 1685.5,157.2 1686.2,155.9C1687.0,154.5 1687.5,154.4 1688.3,154.3C1689.0,154.2 1689.9,154.4 1690.7,155.3C1691.6,156.1 1692.5,157.3 1693.4,159.3C1694.2,161.4 1695.0,164.1 1695.8,167.5C1696.6,170.9 1697.5,175.1 1698.3,179.7C1699.0,184.3 1699.7,189.7 1700.3,195.0C1700.9,200.3 1701.4,206.4 1701.9,211.3C1702.5,216.2 1703.0,221.3 1703.6,224.5C1704.1,227.7 1704.5,229.6 1705.0,230.6C1705.5,231.6 1705.9,232.0 1706.4,230.6C1706.9,229.3 1707.4,225.9 1708.0,222.5C1708.6,219.1 1709.3,213.8 1710.1,210.3C1710.8,206.7 1711.7,203.5 1712.5,201.1C1713.4,198.7 1714.4,197.1 1715.2,196.0C1715.9,194.9 1716.5,194.2 1717.2,194.4C1717.9,194.5 1718.6,195.9 1719.2,197.0C1719.8,198.1 1720.3,200.3 1720.9,201.1C1721.4,201.9 1722.0,202.2 1722.5,201.7C1723.0,201.2 1723.4,200.4 1723.9,198.0C1724.5,195.7 1725.2,191.3 1725.8,187.9C1726.3,184.5 1726.8,180.5 1727.4,177.7C1728.0,174.9 1728.7,172.6 1729.4,171.0C1730.2,169.3 1731.0,168.6 1731.9,167.9C1732.7,167.2 1733.7,166.7 1734.5,166.9C1735.4,167.1 1736.1,167.8 1737.0,168.9C1737.8,170.0 1738.7,171.6 1739.6,173.6C1740.6,175.6 1741.6,178.0 1742.7,180.7C1743.7,183.4 1744.7,186.5 1745.7,189.9C1746.7,193.3 1747.9,197.7 1748.8,201.1C1749.6,204.5 1750.1,207.7 1750.8,210.3C1751.5,212.8 1752.0,214.7 1752.8,216.4C1753.7,218.1 1754.9,219.1 1755.9,220.4C1756.9,221.8 1757.9,223.3 1759.0,224.5C1760.0,225.8 1761.0,227.0 1762.0,228.0C1763.0,229.0 1764.1,230.0 1765.1,230.6C1766.0,231.3 1767.0,231.3 1767.7,232.1C1768.5,232.8 1769.0,233.3 1769.5,235.3C1770.1,237.3 1770.6,240.7 1771.2,243.9C1771.7,247.0 1772.2,250.7 1772.8,254.1C1773.4,257.4 1774.0,261.2 1774.6,264.2C1775.3,267.3 1776.1,270.2 1776.9,272.4C1777.7,274.5 1778.6,276.1 1779.3,277.1C1780.1,278.0 1780.7,278.4 1781.4,278.1C1782.0,277.8 1782.7,276.9 1783.4,275.4C1784.1,274.0 1784.6,271.9 1785.4,269.3C1786.2,266.8 1787.2,263.4 1788.1,260.2C1788.9,256.9 1789.7,253.2 1790.5,250.0C1791.4,246.8 1792.3,243.6 1793.2,240.8C1794.1,238.0 1795.1,235.3 1796.0,233.3C1796.9,231.2 1797.7,229.8 1798.7,228.6C1799.6,227.4 1800.7,226.6 1801.7,226.2C1802.7,225.7 1803.8,225.8 1804.8,226.2C1805.8,226.5 1806.8,227.1 1807.8,228.0C1808.8,228.9 1809.9,230.3 1810.9,231.6C1811.9,233.0 1813.0,235.0 1813.9,236.3C1814.9,237.7 1815.5,239.1 1816.4,239.8C1817.2,240.5 1818.1,240.2 1819.0,240.4C1820.0,240.6 1821.1,240.5 1822.1,240.8C1823.1,241.2 1824.1,241.7 1825.1,242.4C1826.2,243.2 1827.2,244.2 1828.2,245.5C1829.2,246.8 1830.2,248.5 1831.3,250.0C1832.3,251.5 1833.3,253.2 1834.3,254.5C1835.3,255.8 1836.3,256.9 1837.4,257.7C1838.4,258.6 1839.5,259.2 1840.4,259.6C1841.4,259.9 1842.3,260.0 1843.1,259.8C1843.8,259.5 1844.5,260.1 1845.1,258.1C1845.7,256.2 1846.1,252.7 1846.5,247.9C1846.9,243.2 1847.1,236.1 1847.5,229.6C1848.0,223.2 1848.5,215.2 1849.0,209.2C1849.5,203.3 1850.0,198.2 1850.6,194.0C1851.2,189.7 1851.9,186.5 1852.6,183.8C1853.4,181.1 1854.2,179.1 1855.1,177.7C1855.9,176.3 1856.9,175.2 1857.7,175.2C1858.5,175.2 1859.1,176.5 1859.8,177.7C1860.4,178.8 1861.1,181.1 1861.8,182.2C1862.5,183.2 1863.3,183.8 1864.2,184.2C1865.2,184.6 1866.4,184.5 1867.3,184.8C1868.3,185.1 1869.0,185.6 1869.9,186.2C1870.9,186.9 1872.1,187.7 1873.0,188.9C1874.0,190.1 1874.7,191.5 1875.7,193.4C1876.6,195.2 1877.6,197.9 1878.5,200.1C1879.4,202.2 1880.2,204.2 1881.2,206.2C1882.1,208.2 1883.2,210.3 1884.2,212.3C1885.2,214.3 1886.2,216.3 1887.3,218.4C1888.3,220.5 1889.3,222.7 1890.3,224.9C1891.3,227.1 1892.4,229.4 1893.4,231.6C1894.4,233.9 1895.4,236.1 1896.4,238.2C1897.4,240.2 1898.5,242.2 1899.5,243.9C1900.5,245.5 1901.5,246.8 1902.5,247.9C1903.6,249.1 1904.6,249.9 1905.6,250.6C1906.6,251.3 1907.9,251.1 1908.6,252.0C1909.4,252.9 1909.8,253.9 1910.3,256.1C1910.8,258.3 1911.2,262.0 1911.7,265.3C1912.2,268.5 1912.6,271.9 1913.1,275.4C1913.6,279.0 1914.2,283.1 1914.8,286.6C1915.3,290.2 1915.8,293.8 1916.4,296.8C1917.0,299.9 1917.6,302.6 1918.2,305.0C1918.9,307.3 1919.5,309.7 1920.3,311.1C1921.0,312.4 1921.7,313.0 1922.5,313.1C1923.3,313.2 1924.0,312.2 1924.9,311.5C1925.9,310.7 1926.8,309.6 1928.0,308.6C1929.2,307.7 1930.7,306.8 1932.1,306.0C1933.4,305.2 1934.8,304.4 1936.1,303.7C1937.5,303.1 1938.9,302.6 1940.2,301.9C1941.6,301.3 1942.9,300.7 1944.3,299.9C1945.6,299.0 1947.0,297.9 1948.4,296.8C1949.7,295.7 1951.1,294.3 1952.4,293.4C1953.8,292.4 1955.1,291.9 1956.5,291.1C1957.9,290.3 1959.4,289.4 1960.6,288.7C1961.8,287.9 1962.7,287.3 1963.6,286.6C1964.6,286.0 1965.3,285.3 1966.1,285.0C1966.8,284.7 1967.4,284.3 1968.1,284.6C1968.8,284.9 1969.4,285.7 1970.2,286.6C1970.9,287.6 1971.8,289.2 1972.8,290.3C1973.8,291.4 1974.8,292.5 1975.9,293.2C1976.9,293.8 1978.0,294.2 1978.9,294.2C1979.9,294.1 1980.7,293.5 1981.6,292.7C1982.4,292.0 1983.3,291.1 1984.0,289.7C1984.7,288.3 1985.2,287.5 1985.6,284.6C1986.1,281.7 1986.3,277.1 1986.6,272.4C1987.0,267.6 1987.3,261.9 1987.7,256.1C1988.0,250.3 1988.3,243.5 1988.7,237.8C1989.1,232.0 1989.6,226.0 1990.1,221.5C1990.6,216.9 1991.1,213.3 1991.7,210.3C1992.4,207.2 1993.0,204.9 1993.8,203.1C1994.5,201.3 1995.5,200.3 1996.2,199.5C1997.0,198.7 1997.6,198.5 1998.3,198.5C1998.9,198.5 1999.6,199.1 2000.3,199.5C2001.0,199.8 2001.6,200.6 2002.3,200.7C2003.1,200.8 2003.9,200.5 2004.8,200.1C2005.6,199.6 2006.5,198.8 2007.4,198.0C2008.4,197.3 2009.6,196.1 2010.5,195.4C2011.4,194.7 2012.1,193.9 2012.9,193.6C2013.7,193.2 2014.4,193.1 2015.2,193.4C2015.9,193.7 2016.8,194.2 2017.6,195.4C2018.5,196.6 2019.4,198.5 2020.3,200.5C2021.1,202.5 2021.8,204.7 2022.7,207.2C2023.6,209.7 2024.7,212.8 2025.8,215.4C2026.8,217.9 2027.8,220.2 2028.8,222.5C2029.8,224.8 2030.8,227.0 2031.9,229.0C2032.9,231.0 2033.9,232.9 2034.9,234.7C2035.9,236.5 2037.0,238.3 2038.0,239.8C2039.0,241.3 2040.0,242.7 2041.0,243.9C2042.0,245.1 2043.1,246.1 2044.1,246.9C2045.1,247.7 2046.2,248.0 2047.1,248.6C2048.1,249.1 2048.9,248.9 2049.6,250.0C2050.3,251.1 2050.7,252.7 2051.2,255.1C2051.8,257.4 2052.3,261.4 2052.8,264.2C2053.4,267.1 2054.0,270.2 2054.7,272.4C2055.3,274.6 2056.0,276.1 2056.7,277.5C2057.4,278.8 2058.2,280.0 2059.0,280.5C2059.7,281.0 2060.3,281.2 2061.0,280.5C2061.6,279.9 2062.2,278.8 2062.8,276.5C2063.4,274.1 2063.9,270.2 2064.5,266.3C2065.0,262.4 2065.5,257.8 2066.1,253.0C2066.7,248.3 2067.3,243.4 2067.9,237.8C2068.6,232.2 2069.3,225.2 2069.9,219.4C2070.6,213.7 2071.3,207.9 2072.0,203.1C2072.7,198.4 2073.2,194.3 2074.0,190.9C2074.8,187.5 2075.7,185.5 2076.7,182.8C2077.6,180.1 2078.7,177.2 2079.7,174.6C2080.7,172.1 2081.9,169.0 2082.8,167.5C2083.7,166.0 2084.4,165.6 2085.2,165.5C2086.1,165.3 2087.0,165.6 2087.9,166.5C2088.7,167.3 2089.7,168.9 2090.5,170.5C2091.4,172.2 2092.2,174.8 2093.0,176.7C2093.7,178.5 2094.4,180.7 2095.0,181.8C2095.6,182.8 2096.0,183.3 2096.6,183.2C2097.2,183.0 2097.7,182.3 2098.5,180.7C2099.2,179.1 2100.1,176.2 2101.1,173.6C2102.1,171.1 2103.2,167.6 2104.2,165.5C2105.1,163.4 2106.0,161.9 2106.8,161.0C2107.7,160.0 2108.4,159.8 2109.2,159.8C2110.1,159.7 2111.0,159.8 2111.9,160.8C2112.8,161.7 2113.8,163.5 2114.7,165.5C2115.7,167.4 2116.5,169.7 2117.4,172.6C2118.2,175.5 2119.1,178.7 2119.8,182.8C2120.6,186.8 2121.3,191.9 2121.9,197.0C2122.5,202.1 2123.0,208.2 2123.5,213.3C2124.0,218.4 2124.4,224.2 2124.9,227.6C2125.4,231.0 2126.0,233.2 2126.6,233.7C2127.1,234.2 2127.6,232.5 2128.2,230.6C2128.8,228.8 2129.5,225.2 2130.2,222.5C2131.0,219.8 2131.8,216.7 2132.7,214.3C2133.5,212.0 2134.5,209.8 2135.3,208.2C2136.2,206.6 2137.0,205.3 2137.8,204.8C2138.5,204.3 2139.1,204.9 2139.8,205.2C2140.5,205.5 2141.2,206.5 2141.8,206.6C2142.4,206.7 2143.0,206.8 2143.5,205.6C2144.0,204.3 2144.4,201.8 2144.9,199.1C2145.4,196.3 2145.9,192.1 2146.5,188.9C2147.1,185.7 2147.7,182.2 2148.4,179.7C2149.0,177.3 2149.8,175.6 2150.6,174.2C2151.4,172.9 2152.4,172.1 2153.0,171.6C2153.7,171.1 2154.3,171.0 2154.7,171.2C2155.0,171.3 2155.2,172.3 2155.3,172.6" stroke="#70ad47" stroke-width="2.7" stroke-linecap="round"/>
</g>
<line x1="595.6" y1="878.9" x2="663" y2="878.9" stroke="#d92525" stroke-width="2.45" stroke-dasharray="0.01 5.12" stroke-linecap="round"/>
<line x1="783.0" y1="878.9" x2="850.7" y2="878.9" stroke="#5b9bd5" stroke-width="2.5"/>
<line x1="1063.7" y1="878.9" x2="1125.6" y2="878.9" stroke="#ee1c1c" stroke-width="2.6" stroke-dasharray="7.0 10.7" stroke-linecap="round"/>
<line x1="1602.6" y1="878.9" x2="1670.3" y2="878.9" stroke="#70ad47" stroke-width="2.5"/>
<g fill="#595959" stroke="#595959" stroke-width="0.2" stroke-linejoin="round" font-family="&quot;Liberation Sans&quot;, sans-serif">
<text y="82.18" font-size="38.9"><tspan x="79.49" textLength="74.51" lengthAdjust="spacingAndGlyphs">12.0</tspan></text>
<text y="191.17" font-size="38.9"><tspan x="79.49" textLength="74.51" lengthAdjust="spacingAndGlyphs">10.0</tspan></text>
<text y="300.16" font-size="38.9"><tspan x="100.24" textLength="53.78" lengthAdjust="spacingAndGlyphs">8.0</tspan></text>
<text y="409.16" font-size="38.9"><tspan x="99.91" textLength="54.11" lengthAdjust="spacingAndGlyphs">6.0</tspan></text>
<text y="518.15" font-size="38.9"><tspan x="101.02" textLength="52.97" lengthAdjust="spacingAndGlyphs">4.0</tspan></text>
<text y="627.14" font-size="38.9"><tspan x="99.96" textLength="54.07" lengthAdjust="spacingAndGlyphs">2.0</tspan></text>
<text y="736.13" font-size="38.9"><tspan x="100.4" textLength="53.61" lengthAdjust="spacingAndGlyphs">0.0</tspan></text>
<text y="82.18" font-size="38.9"><tspan x="2195.05" textLength="73.03" lengthAdjust="spacingAndGlyphs">14.0</tspan></text>
<text y="175.6" font-size="38.9"><tspan x="2195.05" textLength="73.03" lengthAdjust="spacingAndGlyphs">12.0</tspan></text>
<text y="269.02" font-size="38.9"><tspan x="2195.05" textLength="73.03" lengthAdjust="spacingAndGlyphs">10.0</tspan></text>
<text y="362.44" font-size="38.9"><tspan x="2194.24" textLength="53.57" lengthAdjust="spacingAndGlyphs">8.0</tspan></text>
<text y="455.87" font-size="38.9"><tspan x="2193.92" textLength="53.89" lengthAdjust="spacingAndGlyphs">6.0</tspan></text>
<text y="549.29" font-size="38.9"><tspan x="2195.03" textLength="52.76" lengthAdjust="spacingAndGlyphs">4.0</tspan></text>
<text y="642.71" font-size="38.9"><tspan x="2193.96" textLength="53.85" lengthAdjust="spacingAndGlyphs">2.0</tspan></text>
<text y="736.13" font-size="38.9"><tspan x="2194.4" textLength="53.4" lengthAdjust="spacingAndGlyphs">0.0</tspan></text>
<text y="790.8" font-size="38.9"><tspan x="181.94" textLength="22.22" lengthAdjust="spacingAndGlyphs">0</tspan></text>
<text y="790.8" font-size="38.9"><tspan x="311.9" textLength="41.89" lengthAdjust="spacingAndGlyphs">24</tspan></text>
<text y="790.8" font-size="38.9"><tspan x="453.1" textLength="41.37" lengthAdjust="spacingAndGlyphs">48</tspan></text>
<text y="790.8" font-size="38.9"><tspan x="592.18" textLength="42.8" lengthAdjust="spacingAndGlyphs">72</tspan></text>
<text y="790.8" font-size="38.9"><tspan x="732.53" textLength="42.38" lengthAdjust="spacingAndGlyphs">96</tspan></text>
<text y="790.8" font-size="38.9"><tspan x="861.23" textLength="64.03" lengthAdjust="spacingAndGlyphs">120</tspan></text>
<text y="790.8" font-size="38.9"><tspan x="1001.43" textLength="63.62" lengthAdjust="spacingAndGlyphs">144</tspan></text>
<text y="790.8" font-size="38.9"><tspan x="1141.59" textLength="64.2" lengthAdjust="spacingAndGlyphs">168</tspan></text>
<text y="790.8" font-size="38.9"><tspan x="1281.75" textLength="64.49" lengthAdjust="spacingAndGlyphs">192</tspan></text>
<text y="790.8" font-size="38.9"><tspan x="1422.98" textLength="63.18" lengthAdjust="spacingAndGlyphs">216</tspan></text>
<text y="790.8" font-size="38.9"><tspan x="1563.16" textLength="62.98" lengthAdjust="spacingAndGlyphs">240</tspan></text>
<text y="790.8" font-size="38.9"><tspan x="1703.35" textLength="62.58" lengthAdjust="spacingAndGlyphs">264</tspan></text>
<text y="790.8" font-size="38.9"><tspan x="1843.52" textLength="63.14" lengthAdjust="spacingAndGlyphs">288</tspan></text>
<text y="790.8" font-size="38.9"><tspan x="1984.16" textLength="62.94" lengthAdjust="spacingAndGlyphs">312</tspan></text>
<text y="790.8" font-size="38.9"><tspan x="2124.34" textLength="62.7" lengthAdjust="spacingAndGlyphs">336</tspan></text>
<text y="849.9" font-size="38.2"><tspan x="1123.41" textLength="100.63" lengthAdjust="spacingAndGlyphs">Hours</tspan></text>
<text y="890.4" font-size="38.2"><tspan x="671.0" textLength="89.73" lengthAdjust="spacingAndGlyphs">Wind</tspan></text>
<text y="890.4" font-size="38.2"><tspan x="857.78" textLength="82.0" lengthAdjust="spacingAndGlyphs">ELCC</tspan> <tspan x="952.11" textLength="88.7" lengthAdjust="spacingAndGlyphs">Wind</tspan></text>
<text y="890.4" font-size="38.2"><tspan x="1137.53" textLength="138.34" lengthAdjust="spacingAndGlyphs">Average</tspan> <tspan x="1287.7" textLength="89.01" lengthAdjust="spacingAndGlyphs">Wind</tspan> <tspan x="1386.64" textLength="193.69" lengthAdjust="spacingAndGlyphs">Generation</tspan></text>
<text y="890.4" font-size="38.2"><tspan x="1676.49" textLength="81.68" lengthAdjust="spacingAndGlyphs">Load</tspan></text>
<text transform="translate(59.4,625.2) rotate(-90)" font-size="38.2"><tspan x="-1.93" textLength="190.52" lengthAdjust="spacingAndGlyphs">Generation</tspan> <tspan x="199.29" textLength="63.98" lengthAdjust="spacingAndGlyphs">and</tspan> <tspan x="274.87" textLength="82.21" lengthAdjust="spacingAndGlyphs">ELCC</tspan> <tspan x="366.95" textLength="88.07" lengthAdjust="spacingAndGlyphs">[GW]</tspan></text>
<text transform="translate(2340.4,492.3) rotate(-90)" font-size="38.2"><tspan x="-2.96" textLength="80.29" lengthAdjust="spacingAndGlyphs">Load</tspan> <tspan x="89.39" textLength="86.95" lengthAdjust="spacingAndGlyphs">[GW]</tspan></text>
</g>
</svg>
</body></html>
